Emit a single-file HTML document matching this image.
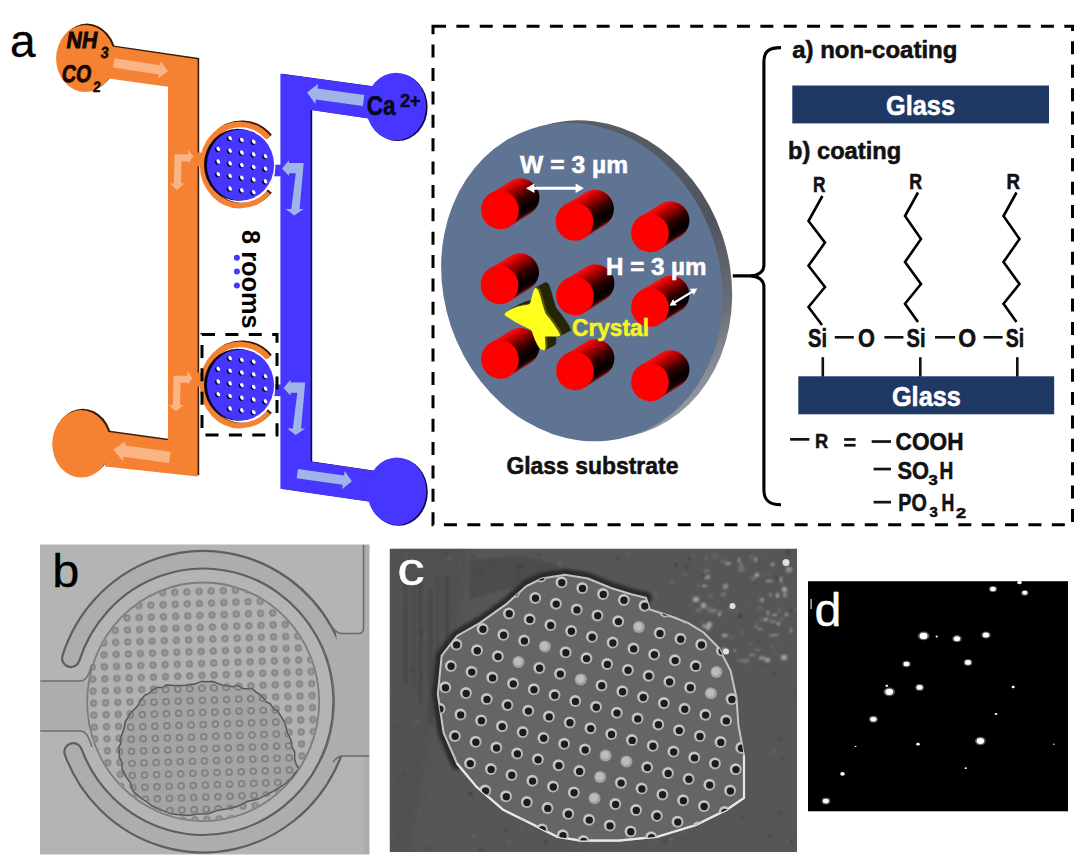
<!DOCTYPE html>
<html><head><meta charset="utf-8"><style>
html,body{margin:0;padding:0;background:#fff;}
svg{display:block;font-family:"Liberation Sans", sans-serif;}
</style></head><body>
<svg width="1090" height="865" viewBox="0 0 1090 865">
<rect width="1090" height="865" fill="#fff"/>
<polygon points="106.6,44.4 199.2,58.1 199.2,475.2 106.6,465.4 106.6,430.3 169.6,439.1 169.6,85.6 106.6,76.7" fill="#3a1a06" />
<ellipse cx="86.89999999999999" cy="57.1" rx="29.2" ry="33.5" fill="#3a1a06"/>
<ellipse cx="82.8" cy="442.40000000000003" rx="29" ry="33.7" fill="#3a1a06"/>
<polygon points="105.0,45.6 197.6,59.3 197.6,476.4 105.0,466.6 105.0,431.5 168.0,440.3 168.0,86.8 105.0,77.9" fill="#F58232" />
<ellipse cx="85.3" cy="58.5" rx="29.2" ry="33.5" fill="#F58232"/>
<ellipse cx="81.2" cy="443.8" rx="29" ry="33.7" fill="#F58232"/>
<polygon points="282.0,73.7 376.6,86.7 376.6,119.5 312.2,110.0 312.2,461.5 376.6,471.0 376.6,502.5 282.0,488.7" fill="#10084a" />
<ellipse cx="397.6" cy="107.3" rx="30" ry="33.8" fill="#10084a"/>
<ellipse cx="398.40000000000003" cy="492.0" rx="29.4" ry="33.8" fill="#10084a"/>
<polygon points="280.4,73.7 375.0,86.7 375.0,119.5 310.6,110.0 310.6,461.5 375.0,471.0 375.0,502.5 280.4,488.7" fill="#4636FF" />
<ellipse cx="396" cy="106.5" rx="30" ry="33.8" fill="#4636FF"/>
<ellipse cx="396.8" cy="491.2" rx="29.4" ry="33.8" fill="#4636FF"/>
<rect x="195" y="152.6" width="14" height="13.8" fill="#F58232"/>
<rect x="268" y="164.7" width="14" height="11.6" fill="#4636FF"/>
<path d="M268.1,137.8 A37.6,40.6 0 1 0 268.1,192.2" fill="none" stroke="#3a1a06" stroke-width="5.6" transform="translate(1.6,-1.2)"/>
<path d="M268.1,137.8 A37.6,40.6 0 1 0 268.1,192.2" fill="none" stroke="#F58232" stroke-width="5.6"/>
<ellipse cx="241.39999999999998" cy="166.8" rx="34" ry="36" fill="#ffffff"/>
<ellipse cx="238.0" cy="164.7" rx="34" ry="36" fill="#0a0520"/>
<ellipse cx="240.5" cy="165.0" rx="33.6" ry="35.6" fill="#4636FF"/>
<ellipse cx="228.9" cy="138.9" rx="2.0" ry="2.6" fill="#0a0530" transform="rotate(-35 228.9 138.9)"/>
<ellipse cx="230.1" cy="138.1" rx="1.6" ry="2.3" fill="#ffffff" transform="rotate(-35 230.1 138.1)"/>
<ellipse cx="240.7" cy="140.7" rx="2.0" ry="2.6" fill="#0a0530" transform="rotate(-35 240.7 140.7)"/>
<ellipse cx="241.9" cy="139.9" rx="1.6" ry="2.3" fill="#ffffff" transform="rotate(-35 241.9 139.9)"/>
<ellipse cx="252.5" cy="142.5" rx="2.0" ry="2.6" fill="#0a0530" transform="rotate(-35 252.5 142.5)"/>
<ellipse cx="253.7" cy="141.7" rx="1.6" ry="2.3" fill="#ffffff" transform="rotate(-35 253.7 141.7)"/>
<ellipse cx="217.1" cy="149.7" rx="2.0" ry="2.6" fill="#0a0530" transform="rotate(-35 217.1 149.7)"/>
<ellipse cx="218.3" cy="148.9" rx="1.6" ry="2.3" fill="#ffffff" transform="rotate(-35 218.3 148.9)"/>
<ellipse cx="228.9" cy="151.5" rx="2.0" ry="2.6" fill="#0a0530" transform="rotate(-35 228.9 151.5)"/>
<ellipse cx="230.1" cy="150.7" rx="1.6" ry="2.3" fill="#ffffff" transform="rotate(-35 230.1 150.7)"/>
<ellipse cx="240.7" cy="153.3" rx="2.0" ry="2.6" fill="#0a0530" transform="rotate(-35 240.7 153.3)"/>
<ellipse cx="241.9" cy="152.5" rx="1.6" ry="2.3" fill="#ffffff" transform="rotate(-35 241.9 152.5)"/>
<ellipse cx="252.5" cy="155.1" rx="2.0" ry="2.6" fill="#0a0530" transform="rotate(-35 252.5 155.1)"/>
<ellipse cx="253.7" cy="154.3" rx="1.6" ry="2.3" fill="#ffffff" transform="rotate(-35 253.7 154.3)"/>
<ellipse cx="264.3" cy="156.9" rx="2.0" ry="2.6" fill="#0a0530" transform="rotate(-35 264.3 156.9)"/>
<ellipse cx="265.5" cy="156.1" rx="1.6" ry="2.3" fill="#ffffff" transform="rotate(-35 265.5 156.1)"/>
<ellipse cx="217.1" cy="162.3" rx="2.0" ry="2.6" fill="#0a0530" transform="rotate(-35 217.1 162.3)"/>
<ellipse cx="218.3" cy="161.5" rx="1.6" ry="2.3" fill="#ffffff" transform="rotate(-35 218.3 161.5)"/>
<ellipse cx="228.9" cy="164.1" rx="2.0" ry="2.6" fill="#0a0530" transform="rotate(-35 228.9 164.1)"/>
<ellipse cx="230.1" cy="163.3" rx="1.6" ry="2.3" fill="#ffffff" transform="rotate(-35 230.1 163.3)"/>
<ellipse cx="240.7" cy="165.9" rx="2.0" ry="2.6" fill="#0a0530" transform="rotate(-35 240.7 165.9)"/>
<ellipse cx="241.9" cy="165.1" rx="1.6" ry="2.3" fill="#ffffff" transform="rotate(-35 241.9 165.1)"/>
<ellipse cx="252.5" cy="167.7" rx="2.0" ry="2.6" fill="#0a0530" transform="rotate(-35 252.5 167.7)"/>
<ellipse cx="253.7" cy="166.9" rx="1.6" ry="2.3" fill="#ffffff" transform="rotate(-35 253.7 166.9)"/>
<ellipse cx="264.3" cy="169.5" rx="2.0" ry="2.6" fill="#0a0530" transform="rotate(-35 264.3 169.5)"/>
<ellipse cx="265.5" cy="168.7" rx="1.6" ry="2.3" fill="#ffffff" transform="rotate(-35 265.5 168.7)"/>
<ellipse cx="217.1" cy="174.9" rx="2.0" ry="2.6" fill="#0a0530" transform="rotate(-35 217.1 174.9)"/>
<ellipse cx="218.3" cy="174.1" rx="1.6" ry="2.3" fill="#ffffff" transform="rotate(-35 218.3 174.1)"/>
<ellipse cx="228.9" cy="176.7" rx="2.0" ry="2.6" fill="#0a0530" transform="rotate(-35 228.9 176.7)"/>
<ellipse cx="230.1" cy="175.9" rx="1.6" ry="2.3" fill="#ffffff" transform="rotate(-35 230.1 175.9)"/>
<ellipse cx="240.7" cy="178.5" rx="2.0" ry="2.6" fill="#0a0530" transform="rotate(-35 240.7 178.5)"/>
<ellipse cx="241.9" cy="177.7" rx="1.6" ry="2.3" fill="#ffffff" transform="rotate(-35 241.9 177.7)"/>
<ellipse cx="252.5" cy="180.3" rx="2.0" ry="2.6" fill="#0a0530" transform="rotate(-35 252.5 180.3)"/>
<ellipse cx="253.7" cy="179.5" rx="1.6" ry="2.3" fill="#ffffff" transform="rotate(-35 253.7 179.5)"/>
<ellipse cx="264.3" cy="182.1" rx="2.0" ry="2.6" fill="#0a0530" transform="rotate(-35 264.3 182.1)"/>
<ellipse cx="265.5" cy="181.3" rx="1.6" ry="2.3" fill="#ffffff" transform="rotate(-35 265.5 181.3)"/>
<ellipse cx="228.9" cy="189.3" rx="2.0" ry="2.6" fill="#0a0530" transform="rotate(-35 228.9 189.3)"/>
<ellipse cx="230.1" cy="188.5" rx="1.6" ry="2.3" fill="#ffffff" transform="rotate(-35 230.1 188.5)"/>
<ellipse cx="240.7" cy="191.1" rx="2.0" ry="2.6" fill="#0a0530" transform="rotate(-35 240.7 191.1)"/>
<ellipse cx="241.9" cy="190.3" rx="1.6" ry="2.3" fill="#ffffff" transform="rotate(-35 241.9 190.3)"/>
<ellipse cx="252.5" cy="192.9" rx="2.0" ry="2.6" fill="#0a0530" transform="rotate(-35 252.5 192.9)"/>
<ellipse cx="253.7" cy="192.1" rx="1.6" ry="2.3" fill="#ffffff" transform="rotate(-35 253.7 192.1)"/>
<rect x="195" y="372.6" width="14" height="14" fill="#F58232"/>
<rect x="268" y="384.5" width="14" height="11.6" fill="#4636FF"/>
<path d="M268.1,357.8 A37.6,40.6 0 1 0 268.1,412.2" fill="none" stroke="#3a1a06" stroke-width="5.6" transform="translate(1.6,-1.2)"/>
<path d="M268.1,357.8 A37.6,40.6 0 1 0 268.1,412.2" fill="none" stroke="#F58232" stroke-width="5.6"/>
<ellipse cx="241.39999999999998" cy="386.8" rx="34" ry="36" fill="#ffffff"/>
<ellipse cx="238.0" cy="384.7" rx="34" ry="36" fill="#0a0520"/>
<ellipse cx="240.5" cy="385.0" rx="33.6" ry="35.6" fill="#4636FF"/>
<ellipse cx="228.9" cy="358.9" rx="2.0" ry="2.6" fill="#0a0530" transform="rotate(-35 228.9 358.9)"/>
<ellipse cx="230.1" cy="358.1" rx="1.6" ry="2.3" fill="#ffffff" transform="rotate(-35 230.1 358.1)"/>
<ellipse cx="240.7" cy="360.7" rx="2.0" ry="2.6" fill="#0a0530" transform="rotate(-35 240.7 360.7)"/>
<ellipse cx="241.9" cy="359.9" rx="1.6" ry="2.3" fill="#ffffff" transform="rotate(-35 241.9 359.9)"/>
<ellipse cx="252.5" cy="362.5" rx="2.0" ry="2.6" fill="#0a0530" transform="rotate(-35 252.5 362.5)"/>
<ellipse cx="253.7" cy="361.7" rx="1.6" ry="2.3" fill="#ffffff" transform="rotate(-35 253.7 361.7)"/>
<ellipse cx="217.1" cy="369.7" rx="2.0" ry="2.6" fill="#0a0530" transform="rotate(-35 217.1 369.7)"/>
<ellipse cx="218.3" cy="368.9" rx="1.6" ry="2.3" fill="#ffffff" transform="rotate(-35 218.3 368.9)"/>
<ellipse cx="228.9" cy="371.5" rx="2.0" ry="2.6" fill="#0a0530" transform="rotate(-35 228.9 371.5)"/>
<ellipse cx="230.1" cy="370.7" rx="1.6" ry="2.3" fill="#ffffff" transform="rotate(-35 230.1 370.7)"/>
<ellipse cx="240.7" cy="373.3" rx="2.0" ry="2.6" fill="#0a0530" transform="rotate(-35 240.7 373.3)"/>
<ellipse cx="241.9" cy="372.5" rx="1.6" ry="2.3" fill="#ffffff" transform="rotate(-35 241.9 372.5)"/>
<ellipse cx="252.5" cy="375.1" rx="2.0" ry="2.6" fill="#0a0530" transform="rotate(-35 252.5 375.1)"/>
<ellipse cx="253.7" cy="374.3" rx="1.6" ry="2.3" fill="#ffffff" transform="rotate(-35 253.7 374.3)"/>
<ellipse cx="264.3" cy="376.9" rx="2.0" ry="2.6" fill="#0a0530" transform="rotate(-35 264.3 376.9)"/>
<ellipse cx="265.5" cy="376.1" rx="1.6" ry="2.3" fill="#ffffff" transform="rotate(-35 265.5 376.1)"/>
<ellipse cx="217.1" cy="382.3" rx="2.0" ry="2.6" fill="#0a0530" transform="rotate(-35 217.1 382.3)"/>
<ellipse cx="218.3" cy="381.5" rx="1.6" ry="2.3" fill="#ffffff" transform="rotate(-35 218.3 381.5)"/>
<ellipse cx="228.9" cy="384.1" rx="2.0" ry="2.6" fill="#0a0530" transform="rotate(-35 228.9 384.1)"/>
<ellipse cx="230.1" cy="383.3" rx="1.6" ry="2.3" fill="#ffffff" transform="rotate(-35 230.1 383.3)"/>
<ellipse cx="240.7" cy="385.9" rx="2.0" ry="2.6" fill="#0a0530" transform="rotate(-35 240.7 385.9)"/>
<ellipse cx="241.9" cy="385.1" rx="1.6" ry="2.3" fill="#ffffff" transform="rotate(-35 241.9 385.1)"/>
<ellipse cx="252.5" cy="387.7" rx="2.0" ry="2.6" fill="#0a0530" transform="rotate(-35 252.5 387.7)"/>
<ellipse cx="253.7" cy="386.9" rx="1.6" ry="2.3" fill="#ffffff" transform="rotate(-35 253.7 386.9)"/>
<ellipse cx="264.3" cy="389.5" rx="2.0" ry="2.6" fill="#0a0530" transform="rotate(-35 264.3 389.5)"/>
<ellipse cx="265.5" cy="388.7" rx="1.6" ry="2.3" fill="#ffffff" transform="rotate(-35 265.5 388.7)"/>
<ellipse cx="217.1" cy="394.9" rx="2.0" ry="2.6" fill="#0a0530" transform="rotate(-35 217.1 394.9)"/>
<ellipse cx="218.3" cy="394.1" rx="1.6" ry="2.3" fill="#ffffff" transform="rotate(-35 218.3 394.1)"/>
<ellipse cx="228.9" cy="396.7" rx="2.0" ry="2.6" fill="#0a0530" transform="rotate(-35 228.9 396.7)"/>
<ellipse cx="230.1" cy="395.9" rx="1.6" ry="2.3" fill="#ffffff" transform="rotate(-35 230.1 395.9)"/>
<ellipse cx="240.7" cy="398.5" rx="2.0" ry="2.6" fill="#0a0530" transform="rotate(-35 240.7 398.5)"/>
<ellipse cx="241.9" cy="397.7" rx="1.6" ry="2.3" fill="#ffffff" transform="rotate(-35 241.9 397.7)"/>
<ellipse cx="252.5" cy="400.3" rx="2.0" ry="2.6" fill="#0a0530" transform="rotate(-35 252.5 400.3)"/>
<ellipse cx="253.7" cy="399.5" rx="1.6" ry="2.3" fill="#ffffff" transform="rotate(-35 253.7 399.5)"/>
<ellipse cx="264.3" cy="402.1" rx="2.0" ry="2.6" fill="#0a0530" transform="rotate(-35 264.3 402.1)"/>
<ellipse cx="265.5" cy="401.3" rx="1.6" ry="2.3" fill="#ffffff" transform="rotate(-35 265.5 401.3)"/>
<ellipse cx="228.9" cy="409.3" rx="2.0" ry="2.6" fill="#0a0530" transform="rotate(-35 228.9 409.3)"/>
<ellipse cx="230.1" cy="408.5" rx="1.6" ry="2.3" fill="#ffffff" transform="rotate(-35 230.1 408.5)"/>
<ellipse cx="240.7" cy="411.1" rx="2.0" ry="2.6" fill="#0a0530" transform="rotate(-35 240.7 411.1)"/>
<ellipse cx="241.9" cy="410.3" rx="1.6" ry="2.3" fill="#ffffff" transform="rotate(-35 241.9 410.3)"/>
<ellipse cx="252.5" cy="412.9" rx="2.0" ry="2.6" fill="#0a0530" transform="rotate(-35 252.5 412.9)"/>
<ellipse cx="253.7" cy="412.1" rx="1.6" ry="2.3" fill="#ffffff" transform="rotate(-35 253.7 412.1)"/>
<path d="M0,-4.6 L46.13298822465297,-4.6 L46.13298822465297,-8.8 L54.73298822465297,0 L46.13298822465297,8.8 L46.13298822465297,4.6 L0,4.6 Z" fill="#FBB584" transform="translate(113.8,62.9) rotate(8.72)"/>
<path d="M0,-5.6 L46.1349280213076,-5.6 L46.1349280213076,-10 L57.1349280213076,0 L46.1349280213076,10 L46.1349280213076,5.6 L0,5.6 Z" fill="#FBB584" transform="translate(169.9,457.4) rotate(-172.15)"/>
<path d="M0,-5.5 L47.34962751850357,-5.5 L47.34962751850357,-10.2 L57.04962751850357,0 L47.34962751850357,10.2 L47.34962751850357,5.5 L0,5.5 Z" fill="#A0B4EA" transform="translate(363.6,100.5) rotate(-172.04)"/>
<path d="M0,-4.75 L46.54027566126231,-4.75 L46.54027566126231,-9.2 L55.14027566126231,0 L46.54027566126231,9.2 L46.54027566126231,4.75 L0,4.75 Z" fill="#A0B4EA" transform="translate(297.3,473.6) rotate(8.03)"/>
<path d="M174.6,154.3 L188.3,154.3 L188.3,149.8 L193.4,156.6 L188.3,163.4 L188.3,161.3 L181.6,161.3 L181.0,183.4 L184.3,183.4 L177,190 L169.7,183.4 L173.8,183.4 Z" fill="#FBB584"/>
<path d="M174.6,154.3 L188.3,154.3 L188.3,149.8 L193.4,156.6 L188.3,163.4 L188.3,161.3 L181.6,161.3 L181.0,183.4 L184.3,183.4 L177,190 L169.7,183.4 L173.8,183.4 Z" fill="#FBB584" transform="translate(-1,221.5)"/>
<path d="M282,168.5 L289,160.2 L289,163 L303.7,163 L299.6,209 L303.7,209 L294.2,215.6 L285.7,209 L291.3,209 L295.8,173.2 L289,173.2 L289,175.9 Z" fill="#A0B4EA"/>
<path d="M282,168.5 L289,160.2 L289,163 L303.7,163 L299.6,209 L303.7,209 L294.2,215.6 L285.7,209 L291.3,209 L295.8,173.2 L289,173.2 L289,175.9 Z" fill="#A0B4EA" transform="translate(1.5,219.5)"/>
<g transform="translate(0,0)">
<text x="0" y="0" transform="translate(65.6,48.3) skewX(-9)" font-size="23.3" font-weight="bold" fill="#140800" stroke="#140800" stroke-width="0.8" textLength="31" lengthAdjust="spacingAndGlyphs">NH</text>
<text x="0" y="0" transform="translate(100.2,58.4) skewX(-6)" font-size="16" font-weight="bold" fill="#140800" stroke="#140800" stroke-width="0.5" textLength="8" lengthAdjust="spacingAndGlyphs">3</text>
<text x="0" y="0" transform="translate(61,81.6) skewX(-7)" font-size="24" font-weight="bold" fill="#140800" stroke="#140800" stroke-width="0.8" textLength="29.5" lengthAdjust="spacingAndGlyphs">CO</text>
<text x="0" y="0" transform="translate(92.8,92) skewX(-5)" font-size="15" font-weight="bold" fill="#140800" stroke="#140800" stroke-width="0.5" textLength="7.6" lengthAdjust="spacingAndGlyphs">2</text>
</g>
<text x="366.7" y="114.9" font-size="27.6" font-weight="bold" font-style="normal" fill="#0a0820" text-anchor="start" textLength="28.8" lengthAdjust="spacingAndGlyphs" stroke="#0a0820" stroke-width="0.55" >Ca</text>
<text x="400.2" y="106.6" font-size="18.6" font-weight="bold" font-style="normal" fill="#0a0820" text-anchor="start" textLength="20.3" lengthAdjust="spacingAndGlyphs" stroke="#0a0820" stroke-width="0.55" >2+</text>
<text x="0" y="0" font-size="26.7" font-weight="bold" fill="#000" transform="translate(242.4,230) rotate(90)" textLength="98.6" lengthAdjust="spacingAndGlyphs">8 rooms</text>
<circle cx="236.9" cy="257.7" r="3" fill="#4636FF"/>
<circle cx="236.9" cy="271.5" r="3" fill="#4636FF"/>
<circle cx="236.9" cy="285.4" r="3" fill="#4636FF"/>
<rect x="202" y="334.5" width="75" height="100.5" fill="none" stroke="#000" stroke-width="3" stroke-dasharray="13 10.4" stroke-dashoffset="0"/>
<text x="10" y="57" font-size="46" font-weight="normal" font-style="normal" fill="#000" text-anchor="start" stroke="#000" stroke-width="0.3" >a</text>
<defs><linearGradient id="rimg" x1="600" y1="120" x2="700" y2="420" gradientUnits="userSpaceOnUse"><stop offset="0" stop-color="#5a5e66"/><stop offset="0.55" stop-color="#50545c"/><stop offset="0.8" stop-color="#6a6e76"/><stop offset="1" stop-color="#9a9ea6"/></linearGradient></defs>
<ellipse cx="591.4" cy="279.6" rx="138.2" ry="161.5" fill="url(#rimg)" transform="rotate(-18.7 591.4 279.6)"/>
<ellipse cx="581.9" cy="282.1" rx="138.2" ry="161.5" fill="#5F7393" transform="rotate(-18.7 581.9 282.1)"/>
<defs><linearGradient id="pg0" gradientUnits="userSpaceOnUse" x1="490.0" y1="193.8" x2="510.0" y2="226.2"><stop offset="0" stop-color="#ff1010"/><stop offset="0.2" stop-color="#c00000"/><stop offset="0.55" stop-color="#300000"/><stop offset="0.8" stop-color="#000"/><stop offset="0.93" stop-color="#200000"/><stop offset="1" stop-color="#a02020"/></linearGradient><linearGradient id="pg1" gradientUnits="userSpaceOnUse" x1="564.5" y1="205.3" x2="584.5" y2="237.7"><stop offset="0" stop-color="#ff1010"/><stop offset="0.2" stop-color="#c00000"/><stop offset="0.55" stop-color="#300000"/><stop offset="0.8" stop-color="#000"/><stop offset="0.93" stop-color="#200000"/><stop offset="1" stop-color="#a02020"/></linearGradient><linearGradient id="pg2" gradientUnits="userSpaceOnUse" x1="640.0" y1="216.8" x2="660.0" y2="249.2"><stop offset="0" stop-color="#ff1010"/><stop offset="0.2" stop-color="#c00000"/><stop offset="0.55" stop-color="#300000"/><stop offset="0.8" stop-color="#000"/><stop offset="0.93" stop-color="#200000"/><stop offset="1" stop-color="#a02020"/></linearGradient><linearGradient id="pg3" gradientUnits="userSpaceOnUse" x1="489.5" y1="268.8" x2="509.5" y2="301.2"><stop offset="0" stop-color="#ff1010"/><stop offset="0.2" stop-color="#c00000"/><stop offset="0.55" stop-color="#300000"/><stop offset="0.8" stop-color="#000"/><stop offset="0.93" stop-color="#200000"/><stop offset="1" stop-color="#a02020"/></linearGradient><linearGradient id="pg4" gradientUnits="userSpaceOnUse" x1="565.0" y1="279.8" x2="585.0" y2="312.2"><stop offset="0" stop-color="#ff1010"/><stop offset="0.2" stop-color="#c00000"/><stop offset="0.55" stop-color="#300000"/><stop offset="0.8" stop-color="#000"/><stop offset="0.93" stop-color="#200000"/><stop offset="1" stop-color="#a02020"/></linearGradient><linearGradient id="pg5" gradientUnits="userSpaceOnUse" x1="640.0" y1="291.3" x2="660.0" y2="323.7"><stop offset="0" stop-color="#ff1010"/><stop offset="0.2" stop-color="#c00000"/><stop offset="0.55" stop-color="#300000"/><stop offset="0.8" stop-color="#000"/><stop offset="0.93" stop-color="#200000"/><stop offset="1" stop-color="#a02020"/></linearGradient><linearGradient id="pg6" gradientUnits="userSpaceOnUse" x1="490.0" y1="343.3" x2="510.0" y2="375.7"><stop offset="0" stop-color="#ff1010"/><stop offset="0.2" stop-color="#c00000"/><stop offset="0.55" stop-color="#300000"/><stop offset="0.8" stop-color="#000"/><stop offset="0.93" stop-color="#200000"/><stop offset="1" stop-color="#a02020"/></linearGradient><linearGradient id="pg7" gradientUnits="userSpaceOnUse" x1="565.0" y1="354.8" x2="585.0" y2="387.2"><stop offset="0" stop-color="#ff1010"/><stop offset="0.2" stop-color="#c00000"/><stop offset="0.55" stop-color="#300000"/><stop offset="0.8" stop-color="#000"/><stop offset="0.93" stop-color="#200000"/><stop offset="1" stop-color="#a02020"/></linearGradient><linearGradient id="pg8" gradientUnits="userSpaceOnUse" x1="640.0" y1="365.8" x2="660.0" y2="398.2"><stop offset="0" stop-color="#ff1010"/><stop offset="0.2" stop-color="#c00000"/><stop offset="0.55" stop-color="#300000"/><stop offset="0.8" stop-color="#000"/><stop offset="0.93" stop-color="#200000"/><stop offset="1" stop-color="#a02020"/></linearGradient></defs>
<path d="M490.0,193.8 L510.4,181.2 A19.0,19.0 0 0 1 530.4,213.6 L510.0,226.2 Z" fill="url(#pg0)"/>
<ellipse cx="500" cy="210" rx="18.8" ry="19.3" fill="#ff0000" transform="rotate(-20 500 210)"/>
<path d="M564.5,205.3 L584.9,192.7 A19.0,19.0 0 0 1 604.9,225.1 L584.5,237.7 Z" fill="url(#pg1)"/>
<ellipse cx="574.5" cy="221.5" rx="18.8" ry="19.3" fill="#ff0000" transform="rotate(-20 574.5 221.5)"/>
<path d="M640.0,216.8 L660.4,204.2 A19.0,19.0 0 0 1 680.4,236.6 L660.0,249.2 Z" fill="url(#pg2)"/>
<ellipse cx="650" cy="233" rx="18.8" ry="19.3" fill="#ff0000" transform="rotate(-20 650 233)"/>
<path d="M489.5,268.8 L509.9,256.2 A19.0,19.0 0 0 1 529.9,288.6 L509.5,301.2 Z" fill="url(#pg3)"/>
<ellipse cx="499.5" cy="285" rx="18.8" ry="19.3" fill="#ff0000" transform="rotate(-20 499.5 285)"/>
<path d="M565.0,279.8 L585.4,267.2 A19.0,19.0 0 0 1 605.4,299.6 L585.0,312.2 Z" fill="url(#pg4)"/>
<ellipse cx="575" cy="296" rx="18.8" ry="19.3" fill="#ff0000" transform="rotate(-20 575 296)"/>
<path d="M640.0,291.3 L660.4,278.7 A19.0,19.0 0 0 1 680.4,311.1 L660.0,323.7 Z" fill="url(#pg5)"/>
<ellipse cx="650" cy="307.5" rx="18.8" ry="19.3" fill="#ff0000" transform="rotate(-20 650 307.5)"/>
<path d="M490.0,343.3 L510.4,330.7 A19.0,19.0 0 0 1 530.4,363.1 L510.0,375.7 Z" fill="url(#pg6)"/>
<ellipse cx="500" cy="359.5" rx="18.8" ry="19.3" fill="#ff0000" transform="rotate(-20 500 359.5)"/>
<path d="M565.0,354.8 L585.4,342.2 A19.0,19.0 0 0 1 605.4,374.6 L585.0,387.2 Z" fill="url(#pg7)"/>
<ellipse cx="575" cy="371" rx="18.8" ry="19.3" fill="#ff0000" transform="rotate(-20 575 371)"/>
<path d="M640.0,365.8 L660.4,353.2 A19.0,19.0 0 0 1 680.4,385.6 L660.0,398.2 Z" fill="url(#pg8)"/>
<ellipse cx="650" cy="382" rx="18.8" ry="19.3" fill="#ff0000" transform="rotate(-20 650 382)"/>
<defs><linearGradient id="cg" x1="0" y1="0" x2="1" y2="0"><stop offset="0" stop-color="#5a5a18"/><stop offset="1" stop-color="#1c1c05"/></linearGradient></defs>
<path d="M504.7,313.9 C505.3,313.0 507.1,311.7 508.9,310.6 C510.6,309.5 513.0,308.2 515.4,307.4 C517.7,306.5 520.6,306.0 522.8,305.5 C524.9,305.1 527.1,305.1 528.3,304.6 C529.5,304.1 529.6,303.8 530.2,302.8 C530.7,301.7 531.1,299.8 531.5,298.1 C532.0,296.4 532.5,294.1 532.9,292.6 C533.4,291.0 533.9,289.6 534.3,288.9 C534.8,288.1 535.1,287.8 535.7,288.0 C536.3,288.1 537.2,288.4 538.0,289.8 C538.8,291.2 539.6,293.8 540.3,296.3 C541.1,298.7 541.9,302.0 542.6,304.6 C543.4,307.2 544.4,310.5 545.0,312.0 C545.5,313.5 545.1,312.8 545.9,313.9 C546.6,314.9 548.2,316.6 549.6,318.5 C551.0,320.3 552.8,322.9 554.2,325.0 C555.6,327.0 557.0,329.0 557.9,330.5 C558.8,332.0 559.4,333.4 559.8,334.2 C560.1,335.1 560.7,335.2 560.2,335.6 C559.8,336.0 558.6,336.4 557.0,336.5 C555.4,336.7 552.4,336.5 550.5,336.5 C548.6,336.5 546.3,336.3 545.4,336.5 C544.5,336.7 545.0,336.7 545.0,337.9 C545.0,339.1 545.3,341.8 545.4,343.5 C545.5,345.2 545.6,346.9 545.4,348.1 C545.2,349.2 545.0,350.4 544.0,350.4 C543.0,350.4 540.8,349.5 539.4,348.1 C538.0,346.6 536.8,343.9 535.7,341.6 C534.6,339.3 533.6,336.1 532.9,334.2 C532.2,332.4 532.0,331.3 531.5,330.5 C531.1,329.7 531.3,330.2 530.2,329.6 C529.0,329.0 526.8,327.9 524.6,326.8 C522.4,325.7 519.7,324.5 517.2,323.1 C514.7,321.7 511.7,319.7 509.8,318.5 C507.9,317.2 506.5,316.5 505.6,315.7 C504.8,314.9 504.2,314.7 504.7,313.9 Z" fill="#262606" stroke="#262606" stroke-width="0.6" transform="translate(10.50,-5.50)"/>
<path d="M504.7,313.9 C505.3,313.0 507.1,311.7 508.9,310.6 C510.6,309.5 513.0,308.2 515.4,307.4 C517.7,306.5 520.6,306.0 522.8,305.5 C524.9,305.1 527.1,305.1 528.3,304.6 C529.5,304.1 529.6,303.8 530.2,302.8 C530.7,301.7 531.1,299.8 531.5,298.1 C532.0,296.4 532.5,294.1 532.9,292.6 C533.4,291.0 533.9,289.6 534.3,288.9 C534.8,288.1 535.1,287.8 535.7,288.0 C536.3,288.1 537.2,288.4 538.0,289.8 C538.8,291.2 539.6,293.8 540.3,296.3 C541.1,298.7 541.9,302.0 542.6,304.6 C543.4,307.2 544.4,310.5 545.0,312.0 C545.5,313.5 545.1,312.8 545.9,313.9 C546.6,314.9 548.2,316.6 549.6,318.5 C551.0,320.3 552.8,322.9 554.2,325.0 C555.6,327.0 557.0,329.0 557.9,330.5 C558.8,332.0 559.4,333.4 559.8,334.2 C560.1,335.1 560.7,335.2 560.2,335.6 C559.8,336.0 558.6,336.4 557.0,336.5 C555.4,336.7 552.4,336.5 550.5,336.5 C548.6,336.5 546.3,336.3 545.4,336.5 C544.5,336.7 545.0,336.7 545.0,337.9 C545.0,339.1 545.3,341.8 545.4,343.5 C545.5,345.2 545.6,346.9 545.4,348.1 C545.2,349.2 545.0,350.4 544.0,350.4 C543.0,350.4 540.8,349.5 539.4,348.1 C538.0,346.6 536.8,343.9 535.7,341.6 C534.6,339.3 533.6,336.1 532.9,334.2 C532.2,332.4 532.0,331.3 531.5,330.5 C531.1,329.7 531.3,330.2 530.2,329.6 C529.0,329.0 526.8,327.9 524.6,326.8 C522.4,325.7 519.7,324.5 517.2,323.1 C514.7,321.7 511.7,319.7 509.8,318.5 C507.9,317.2 506.5,316.5 505.6,315.7 C504.8,314.9 504.2,314.7 504.7,313.9 Z" fill="#262606" stroke="#262606" stroke-width="0.6" transform="translate(9.62,-5.04)"/>
<path d="M504.7,313.9 C505.3,313.0 507.1,311.7 508.9,310.6 C510.6,309.5 513.0,308.2 515.4,307.4 C517.7,306.5 520.6,306.0 522.8,305.5 C524.9,305.1 527.1,305.1 528.3,304.6 C529.5,304.1 529.6,303.8 530.2,302.8 C530.7,301.7 531.1,299.8 531.5,298.1 C532.0,296.4 532.5,294.1 532.9,292.6 C533.4,291.0 533.9,289.6 534.3,288.9 C534.8,288.1 535.1,287.8 535.7,288.0 C536.3,288.1 537.2,288.4 538.0,289.8 C538.8,291.2 539.6,293.8 540.3,296.3 C541.1,298.7 541.9,302.0 542.6,304.6 C543.4,307.2 544.4,310.5 545.0,312.0 C545.5,313.5 545.1,312.8 545.9,313.9 C546.6,314.9 548.2,316.6 549.6,318.5 C551.0,320.3 552.8,322.9 554.2,325.0 C555.6,327.0 557.0,329.0 557.9,330.5 C558.8,332.0 559.4,333.4 559.8,334.2 C560.1,335.1 560.7,335.2 560.2,335.6 C559.8,336.0 558.6,336.4 557.0,336.5 C555.4,336.7 552.4,336.5 550.5,336.5 C548.6,336.5 546.3,336.3 545.4,336.5 C544.5,336.7 545.0,336.7 545.0,337.9 C545.0,339.1 545.3,341.8 545.4,343.5 C545.5,345.2 545.6,346.9 545.4,348.1 C545.2,349.2 545.0,350.4 544.0,350.4 C543.0,350.4 540.8,349.5 539.4,348.1 C538.0,346.6 536.8,343.9 535.7,341.6 C534.6,339.3 533.6,336.1 532.9,334.2 C532.2,332.4 532.0,331.3 531.5,330.5 C531.1,329.7 531.3,330.2 530.2,329.6 C529.0,329.0 526.8,327.9 524.6,326.8 C522.4,325.7 519.7,324.5 517.2,323.1 C514.7,321.7 511.7,319.7 509.8,318.5 C507.9,317.2 506.5,316.5 505.6,315.7 C504.8,314.9 504.2,314.7 504.7,313.9 Z" fill="#262606" stroke="#262606" stroke-width="0.6" transform="translate(8.75,-4.58)"/>
<path d="M504.7,313.9 C505.3,313.0 507.1,311.7 508.9,310.6 C510.6,309.5 513.0,308.2 515.4,307.4 C517.7,306.5 520.6,306.0 522.8,305.5 C524.9,305.1 527.1,305.1 528.3,304.6 C529.5,304.1 529.6,303.8 530.2,302.8 C530.7,301.7 531.1,299.8 531.5,298.1 C532.0,296.4 532.5,294.1 532.9,292.6 C533.4,291.0 533.9,289.6 534.3,288.9 C534.8,288.1 535.1,287.8 535.7,288.0 C536.3,288.1 537.2,288.4 538.0,289.8 C538.8,291.2 539.6,293.8 540.3,296.3 C541.1,298.7 541.9,302.0 542.6,304.6 C543.4,307.2 544.4,310.5 545.0,312.0 C545.5,313.5 545.1,312.8 545.9,313.9 C546.6,314.9 548.2,316.6 549.6,318.5 C551.0,320.3 552.8,322.9 554.2,325.0 C555.6,327.0 557.0,329.0 557.9,330.5 C558.8,332.0 559.4,333.4 559.8,334.2 C560.1,335.1 560.7,335.2 560.2,335.6 C559.8,336.0 558.6,336.4 557.0,336.5 C555.4,336.7 552.4,336.5 550.5,336.5 C548.6,336.5 546.3,336.3 545.4,336.5 C544.5,336.7 545.0,336.7 545.0,337.9 C545.0,339.1 545.3,341.8 545.4,343.5 C545.5,345.2 545.6,346.9 545.4,348.1 C545.2,349.2 545.0,350.4 544.0,350.4 C543.0,350.4 540.8,349.5 539.4,348.1 C538.0,346.6 536.8,343.9 535.7,341.6 C534.6,339.3 533.6,336.1 532.9,334.2 C532.2,332.4 532.0,331.3 531.5,330.5 C531.1,329.7 531.3,330.2 530.2,329.6 C529.0,329.0 526.8,327.9 524.6,326.8 C522.4,325.7 519.7,324.5 517.2,323.1 C514.7,321.7 511.7,319.7 509.8,318.5 C507.9,317.2 506.5,316.5 505.6,315.7 C504.8,314.9 504.2,314.7 504.7,313.9 Z" fill="#262606" stroke="#262606" stroke-width="0.6" transform="translate(7.88,-4.12)"/>
<path d="M504.7,313.9 C505.3,313.0 507.1,311.7 508.9,310.6 C510.6,309.5 513.0,308.2 515.4,307.4 C517.7,306.5 520.6,306.0 522.8,305.5 C524.9,305.1 527.1,305.1 528.3,304.6 C529.5,304.1 529.6,303.8 530.2,302.8 C530.7,301.7 531.1,299.8 531.5,298.1 C532.0,296.4 532.5,294.1 532.9,292.6 C533.4,291.0 533.9,289.6 534.3,288.9 C534.8,288.1 535.1,287.8 535.7,288.0 C536.3,288.1 537.2,288.4 538.0,289.8 C538.8,291.2 539.6,293.8 540.3,296.3 C541.1,298.7 541.9,302.0 542.6,304.6 C543.4,307.2 544.4,310.5 545.0,312.0 C545.5,313.5 545.1,312.8 545.9,313.9 C546.6,314.9 548.2,316.6 549.6,318.5 C551.0,320.3 552.8,322.9 554.2,325.0 C555.6,327.0 557.0,329.0 557.9,330.5 C558.8,332.0 559.4,333.4 559.8,334.2 C560.1,335.1 560.7,335.2 560.2,335.6 C559.8,336.0 558.6,336.4 557.0,336.5 C555.4,336.7 552.4,336.5 550.5,336.5 C548.6,336.5 546.3,336.3 545.4,336.5 C544.5,336.7 545.0,336.7 545.0,337.9 C545.0,339.1 545.3,341.8 545.4,343.5 C545.5,345.2 545.6,346.9 545.4,348.1 C545.2,349.2 545.0,350.4 544.0,350.4 C543.0,350.4 540.8,349.5 539.4,348.1 C538.0,346.6 536.8,343.9 535.7,341.6 C534.6,339.3 533.6,336.1 532.9,334.2 C532.2,332.4 532.0,331.3 531.5,330.5 C531.1,329.7 531.3,330.2 530.2,329.6 C529.0,329.0 526.8,327.9 524.6,326.8 C522.4,325.7 519.7,324.5 517.2,323.1 C514.7,321.7 511.7,319.7 509.8,318.5 C507.9,317.2 506.5,316.5 505.6,315.7 C504.8,314.9 504.2,314.7 504.7,313.9 Z" fill="#262606" stroke="#262606" stroke-width="0.6" transform="translate(7.00,-3.67)"/>
<path d="M504.7,313.9 C505.3,313.0 507.1,311.7 508.9,310.6 C510.6,309.5 513.0,308.2 515.4,307.4 C517.7,306.5 520.6,306.0 522.8,305.5 C524.9,305.1 527.1,305.1 528.3,304.6 C529.5,304.1 529.6,303.8 530.2,302.8 C530.7,301.7 531.1,299.8 531.5,298.1 C532.0,296.4 532.5,294.1 532.9,292.6 C533.4,291.0 533.9,289.6 534.3,288.9 C534.8,288.1 535.1,287.8 535.7,288.0 C536.3,288.1 537.2,288.4 538.0,289.8 C538.8,291.2 539.6,293.8 540.3,296.3 C541.1,298.7 541.9,302.0 542.6,304.6 C543.4,307.2 544.4,310.5 545.0,312.0 C545.5,313.5 545.1,312.8 545.9,313.9 C546.6,314.9 548.2,316.6 549.6,318.5 C551.0,320.3 552.8,322.9 554.2,325.0 C555.6,327.0 557.0,329.0 557.9,330.5 C558.8,332.0 559.4,333.4 559.8,334.2 C560.1,335.1 560.7,335.2 560.2,335.6 C559.8,336.0 558.6,336.4 557.0,336.5 C555.4,336.7 552.4,336.5 550.5,336.5 C548.6,336.5 546.3,336.3 545.4,336.5 C544.5,336.7 545.0,336.7 545.0,337.9 C545.0,339.1 545.3,341.8 545.4,343.5 C545.5,345.2 545.6,346.9 545.4,348.1 C545.2,349.2 545.0,350.4 544.0,350.4 C543.0,350.4 540.8,349.5 539.4,348.1 C538.0,346.6 536.8,343.9 535.7,341.6 C534.6,339.3 533.6,336.1 532.9,334.2 C532.2,332.4 532.0,331.3 531.5,330.5 C531.1,329.7 531.3,330.2 530.2,329.6 C529.0,329.0 526.8,327.9 524.6,326.8 C522.4,325.7 519.7,324.5 517.2,323.1 C514.7,321.7 511.7,319.7 509.8,318.5 C507.9,317.2 506.5,316.5 505.6,315.7 C504.8,314.9 504.2,314.7 504.7,313.9 Z" fill="#262606" stroke="#262606" stroke-width="0.6" transform="translate(6.12,-3.21)"/>
<path d="M504.7,313.9 C505.3,313.0 507.1,311.7 508.9,310.6 C510.6,309.5 513.0,308.2 515.4,307.4 C517.7,306.5 520.6,306.0 522.8,305.5 C524.9,305.1 527.1,305.1 528.3,304.6 C529.5,304.1 529.6,303.8 530.2,302.8 C530.7,301.7 531.1,299.8 531.5,298.1 C532.0,296.4 532.5,294.1 532.9,292.6 C533.4,291.0 533.9,289.6 534.3,288.9 C534.8,288.1 535.1,287.8 535.7,288.0 C536.3,288.1 537.2,288.4 538.0,289.8 C538.8,291.2 539.6,293.8 540.3,296.3 C541.1,298.7 541.9,302.0 542.6,304.6 C543.4,307.2 544.4,310.5 545.0,312.0 C545.5,313.5 545.1,312.8 545.9,313.9 C546.6,314.9 548.2,316.6 549.6,318.5 C551.0,320.3 552.8,322.9 554.2,325.0 C555.6,327.0 557.0,329.0 557.9,330.5 C558.8,332.0 559.4,333.4 559.8,334.2 C560.1,335.1 560.7,335.2 560.2,335.6 C559.8,336.0 558.6,336.4 557.0,336.5 C555.4,336.7 552.4,336.5 550.5,336.5 C548.6,336.5 546.3,336.3 545.4,336.5 C544.5,336.7 545.0,336.7 545.0,337.9 C545.0,339.1 545.3,341.8 545.4,343.5 C545.5,345.2 545.6,346.9 545.4,348.1 C545.2,349.2 545.0,350.4 544.0,350.4 C543.0,350.4 540.8,349.5 539.4,348.1 C538.0,346.6 536.8,343.9 535.7,341.6 C534.6,339.3 533.6,336.1 532.9,334.2 C532.2,332.4 532.0,331.3 531.5,330.5 C531.1,329.7 531.3,330.2 530.2,329.6 C529.0,329.0 526.8,327.9 524.6,326.8 C522.4,325.7 519.7,324.5 517.2,323.1 C514.7,321.7 511.7,319.7 509.8,318.5 C507.9,317.2 506.5,316.5 505.6,315.7 C504.8,314.9 504.2,314.7 504.7,313.9 Z" fill="#262606" stroke="#262606" stroke-width="0.6" transform="translate(5.25,-2.75)"/>
<path d="M504.7,313.9 C505.3,313.0 507.1,311.7 508.9,310.6 C510.6,309.5 513.0,308.2 515.4,307.4 C517.7,306.5 520.6,306.0 522.8,305.5 C524.9,305.1 527.1,305.1 528.3,304.6 C529.5,304.1 529.6,303.8 530.2,302.8 C530.7,301.7 531.1,299.8 531.5,298.1 C532.0,296.4 532.5,294.1 532.9,292.6 C533.4,291.0 533.9,289.6 534.3,288.9 C534.8,288.1 535.1,287.8 535.7,288.0 C536.3,288.1 537.2,288.4 538.0,289.8 C538.8,291.2 539.6,293.8 540.3,296.3 C541.1,298.7 541.9,302.0 542.6,304.6 C543.4,307.2 544.4,310.5 545.0,312.0 C545.5,313.5 545.1,312.8 545.9,313.9 C546.6,314.9 548.2,316.6 549.6,318.5 C551.0,320.3 552.8,322.9 554.2,325.0 C555.6,327.0 557.0,329.0 557.9,330.5 C558.8,332.0 559.4,333.4 559.8,334.2 C560.1,335.1 560.7,335.2 560.2,335.6 C559.8,336.0 558.6,336.4 557.0,336.5 C555.4,336.7 552.4,336.5 550.5,336.5 C548.6,336.5 546.3,336.3 545.4,336.5 C544.5,336.7 545.0,336.7 545.0,337.9 C545.0,339.1 545.3,341.8 545.4,343.5 C545.5,345.2 545.6,346.9 545.4,348.1 C545.2,349.2 545.0,350.4 544.0,350.4 C543.0,350.4 540.8,349.5 539.4,348.1 C538.0,346.6 536.8,343.9 535.7,341.6 C534.6,339.3 533.6,336.1 532.9,334.2 C532.2,332.4 532.0,331.3 531.5,330.5 C531.1,329.7 531.3,330.2 530.2,329.6 C529.0,329.0 526.8,327.9 524.6,326.8 C522.4,325.7 519.7,324.5 517.2,323.1 C514.7,321.7 511.7,319.7 509.8,318.5 C507.9,317.2 506.5,316.5 505.6,315.7 C504.8,314.9 504.2,314.7 504.7,313.9 Z" fill="#262606" stroke="#262606" stroke-width="0.6" transform="translate(4.38,-2.29)"/>
<path d="M504.7,313.9 C505.3,313.0 507.1,311.7 508.9,310.6 C510.6,309.5 513.0,308.2 515.4,307.4 C517.7,306.5 520.6,306.0 522.8,305.5 C524.9,305.1 527.1,305.1 528.3,304.6 C529.5,304.1 529.6,303.8 530.2,302.8 C530.7,301.7 531.1,299.8 531.5,298.1 C532.0,296.4 532.5,294.1 532.9,292.6 C533.4,291.0 533.9,289.6 534.3,288.9 C534.8,288.1 535.1,287.8 535.7,288.0 C536.3,288.1 537.2,288.4 538.0,289.8 C538.8,291.2 539.6,293.8 540.3,296.3 C541.1,298.7 541.9,302.0 542.6,304.6 C543.4,307.2 544.4,310.5 545.0,312.0 C545.5,313.5 545.1,312.8 545.9,313.9 C546.6,314.9 548.2,316.6 549.6,318.5 C551.0,320.3 552.8,322.9 554.2,325.0 C555.6,327.0 557.0,329.0 557.9,330.5 C558.8,332.0 559.4,333.4 559.8,334.2 C560.1,335.1 560.7,335.2 560.2,335.6 C559.8,336.0 558.6,336.4 557.0,336.5 C555.4,336.7 552.4,336.5 550.5,336.5 C548.6,336.5 546.3,336.3 545.4,336.5 C544.5,336.7 545.0,336.7 545.0,337.9 C545.0,339.1 545.3,341.8 545.4,343.5 C545.5,345.2 545.6,346.9 545.4,348.1 C545.2,349.2 545.0,350.4 544.0,350.4 C543.0,350.4 540.8,349.5 539.4,348.1 C538.0,346.6 536.8,343.9 535.7,341.6 C534.6,339.3 533.6,336.1 532.9,334.2 C532.2,332.4 532.0,331.3 531.5,330.5 C531.1,329.7 531.3,330.2 530.2,329.6 C529.0,329.0 526.8,327.9 524.6,326.8 C522.4,325.7 519.7,324.5 517.2,323.1 C514.7,321.7 511.7,319.7 509.8,318.5 C507.9,317.2 506.5,316.5 505.6,315.7 C504.8,314.9 504.2,314.7 504.7,313.9 Z" fill="#262606" stroke="#262606" stroke-width="0.6" transform="translate(3.50,-1.83)"/>
<path d="M504.7,313.9 C505.3,313.0 507.1,311.7 508.9,310.6 C510.6,309.5 513.0,308.2 515.4,307.4 C517.7,306.5 520.6,306.0 522.8,305.5 C524.9,305.1 527.1,305.1 528.3,304.6 C529.5,304.1 529.6,303.8 530.2,302.8 C530.7,301.7 531.1,299.8 531.5,298.1 C532.0,296.4 532.5,294.1 532.9,292.6 C533.4,291.0 533.9,289.6 534.3,288.9 C534.8,288.1 535.1,287.8 535.7,288.0 C536.3,288.1 537.2,288.4 538.0,289.8 C538.8,291.2 539.6,293.8 540.3,296.3 C541.1,298.7 541.9,302.0 542.6,304.6 C543.4,307.2 544.4,310.5 545.0,312.0 C545.5,313.5 545.1,312.8 545.9,313.9 C546.6,314.9 548.2,316.6 549.6,318.5 C551.0,320.3 552.8,322.9 554.2,325.0 C555.6,327.0 557.0,329.0 557.9,330.5 C558.8,332.0 559.4,333.4 559.8,334.2 C560.1,335.1 560.7,335.2 560.2,335.6 C559.8,336.0 558.6,336.4 557.0,336.5 C555.4,336.7 552.4,336.5 550.5,336.5 C548.6,336.5 546.3,336.3 545.4,336.5 C544.5,336.7 545.0,336.7 545.0,337.9 C545.0,339.1 545.3,341.8 545.4,343.5 C545.5,345.2 545.6,346.9 545.4,348.1 C545.2,349.2 545.0,350.4 544.0,350.4 C543.0,350.4 540.8,349.5 539.4,348.1 C538.0,346.6 536.8,343.9 535.7,341.6 C534.6,339.3 533.6,336.1 532.9,334.2 C532.2,332.4 532.0,331.3 531.5,330.5 C531.1,329.7 531.3,330.2 530.2,329.6 C529.0,329.0 526.8,327.9 524.6,326.8 C522.4,325.7 519.7,324.5 517.2,323.1 C514.7,321.7 511.7,319.7 509.8,318.5 C507.9,317.2 506.5,316.5 505.6,315.7 C504.8,314.9 504.2,314.7 504.7,313.9 Z" fill="#262606" stroke="#262606" stroke-width="0.6" transform="translate(2.62,-1.38)"/>
<path d="M504.7,313.9 C505.3,313.0 507.1,311.7 508.9,310.6 C510.6,309.5 513.0,308.2 515.4,307.4 C517.7,306.5 520.6,306.0 522.8,305.5 C524.9,305.1 527.1,305.1 528.3,304.6 C529.5,304.1 529.6,303.8 530.2,302.8 C530.7,301.7 531.1,299.8 531.5,298.1 C532.0,296.4 532.5,294.1 532.9,292.6 C533.4,291.0 533.9,289.6 534.3,288.9 C534.8,288.1 535.1,287.8 535.7,288.0 C536.3,288.1 537.2,288.4 538.0,289.8 C538.8,291.2 539.6,293.8 540.3,296.3 C541.1,298.7 541.9,302.0 542.6,304.6 C543.4,307.2 544.4,310.5 545.0,312.0 C545.5,313.5 545.1,312.8 545.9,313.9 C546.6,314.9 548.2,316.6 549.6,318.5 C551.0,320.3 552.8,322.9 554.2,325.0 C555.6,327.0 557.0,329.0 557.9,330.5 C558.8,332.0 559.4,333.4 559.8,334.2 C560.1,335.1 560.7,335.2 560.2,335.6 C559.8,336.0 558.6,336.4 557.0,336.5 C555.4,336.7 552.4,336.5 550.5,336.5 C548.6,336.5 546.3,336.3 545.4,336.5 C544.5,336.7 545.0,336.7 545.0,337.9 C545.0,339.1 545.3,341.8 545.4,343.5 C545.5,345.2 545.6,346.9 545.4,348.1 C545.2,349.2 545.0,350.4 544.0,350.4 C543.0,350.4 540.8,349.5 539.4,348.1 C538.0,346.6 536.8,343.9 535.7,341.6 C534.6,339.3 533.6,336.1 532.9,334.2 C532.2,332.4 532.0,331.3 531.5,330.5 C531.1,329.7 531.3,330.2 530.2,329.6 C529.0,329.0 526.8,327.9 524.6,326.8 C522.4,325.7 519.7,324.5 517.2,323.1 C514.7,321.7 511.7,319.7 509.8,318.5 C507.9,317.2 506.5,316.5 505.6,315.7 C504.8,314.9 504.2,314.7 504.7,313.9 Z" fill="#55550c" stroke="#55550c" stroke-width="0.6" transform="translate(1.75,-0.92)"/>
<path d="M504.7,313.9 C505.3,313.0 507.1,311.7 508.9,310.6 C510.6,309.5 513.0,308.2 515.4,307.4 C517.7,306.5 520.6,306.0 522.8,305.5 C524.9,305.1 527.1,305.1 528.3,304.6 C529.5,304.1 529.6,303.8 530.2,302.8 C530.7,301.7 531.1,299.8 531.5,298.1 C532.0,296.4 532.5,294.1 532.9,292.6 C533.4,291.0 533.9,289.6 534.3,288.9 C534.8,288.1 535.1,287.8 535.7,288.0 C536.3,288.1 537.2,288.4 538.0,289.8 C538.8,291.2 539.6,293.8 540.3,296.3 C541.1,298.7 541.9,302.0 542.6,304.6 C543.4,307.2 544.4,310.5 545.0,312.0 C545.5,313.5 545.1,312.8 545.9,313.9 C546.6,314.9 548.2,316.6 549.6,318.5 C551.0,320.3 552.8,322.9 554.2,325.0 C555.6,327.0 557.0,329.0 557.9,330.5 C558.8,332.0 559.4,333.4 559.8,334.2 C560.1,335.1 560.7,335.2 560.2,335.6 C559.8,336.0 558.6,336.4 557.0,336.5 C555.4,336.7 552.4,336.5 550.5,336.5 C548.6,336.5 546.3,336.3 545.4,336.5 C544.5,336.7 545.0,336.7 545.0,337.9 C545.0,339.1 545.3,341.8 545.4,343.5 C545.5,345.2 545.6,346.9 545.4,348.1 C545.2,349.2 545.0,350.4 544.0,350.4 C543.0,350.4 540.8,349.5 539.4,348.1 C538.0,346.6 536.8,343.9 535.7,341.6 C534.6,339.3 533.6,336.1 532.9,334.2 C532.2,332.4 532.0,331.3 531.5,330.5 C531.1,329.7 531.3,330.2 530.2,329.6 C529.0,329.0 526.8,327.9 524.6,326.8 C522.4,325.7 519.7,324.5 517.2,323.1 C514.7,321.7 511.7,319.7 509.8,318.5 C507.9,317.2 506.5,316.5 505.6,315.7 C504.8,314.9 504.2,314.7 504.7,313.9 Z" fill="#55550c" stroke="#55550c" stroke-width="0.6" transform="translate(0.88,-0.46)"/>
<path d="M504.7,313.9 C505.3,313.0 507.1,311.7 508.9,310.6 C510.6,309.5 513.0,308.2 515.4,307.4 C517.7,306.5 520.6,306.0 522.8,305.5 C524.9,305.1 527.1,305.1 528.3,304.6 C529.5,304.1 529.6,303.8 530.2,302.8 C530.7,301.7 531.1,299.8 531.5,298.1 C532.0,296.4 532.5,294.1 532.9,292.6 C533.4,291.0 533.9,289.6 534.3,288.9 C534.8,288.1 535.1,287.8 535.7,288.0 C536.3,288.1 537.2,288.4 538.0,289.8 C538.8,291.2 539.6,293.8 540.3,296.3 C541.1,298.7 541.9,302.0 542.6,304.6 C543.4,307.2 544.4,310.5 545.0,312.0 C545.5,313.5 545.1,312.8 545.9,313.9 C546.6,314.9 548.2,316.6 549.6,318.5 C551.0,320.3 552.8,322.9 554.2,325.0 C555.6,327.0 557.0,329.0 557.9,330.5 C558.8,332.0 559.4,333.4 559.8,334.2 C560.1,335.1 560.7,335.2 560.2,335.6 C559.8,336.0 558.6,336.4 557.0,336.5 C555.4,336.7 552.4,336.5 550.5,336.5 C548.6,336.5 546.3,336.3 545.4,336.5 C544.5,336.7 545.0,336.7 545.0,337.9 C545.0,339.1 545.3,341.8 545.4,343.5 C545.5,345.2 545.6,346.9 545.4,348.1 C545.2,349.2 545.0,350.4 544.0,350.4 C543.0,350.4 540.8,349.5 539.4,348.1 C538.0,346.6 536.8,343.9 535.7,341.6 C534.6,339.3 533.6,336.1 532.9,334.2 C532.2,332.4 532.0,331.3 531.5,330.5 C531.1,329.7 531.3,330.2 530.2,329.6 C529.0,329.0 526.8,327.9 524.6,326.8 C522.4,325.7 519.7,324.5 517.2,323.1 C514.7,321.7 511.7,319.7 509.8,318.5 C507.9,317.2 506.5,316.5 505.6,315.7 C504.8,314.9 504.2,314.7 504.7,313.9 Z" fill="#FFFF1E"/>
<text x="520.1" y="172.7" font-size="24.5" font-weight="bold" font-style="normal" fill="#fff" text-anchor="start" textLength="108" lengthAdjust="spacingAndGlyphs" stroke="#fff" stroke-width="0.55" >W = 3 µm</text>
<text x="606" y="274.8" font-size="24.3" font-weight="bold" font-style="normal" fill="#fff" text-anchor="start" textLength="100.5" lengthAdjust="spacingAndGlyphs" stroke="#fff" stroke-width="0.55" >H = 3 µm</text>
<text x="572" y="335.5" font-size="24.4" font-weight="bold" font-style="normal" fill="#F5F520" text-anchor="start" textLength="77" lengthAdjust="spacingAndGlyphs" stroke="#F5F520" stroke-width="0.55" >Crystal</text>
<text x="506.4" y="474.4" font-size="24" font-weight="bold" font-style="normal" fill="#111" text-anchor="start" textLength="172" lengthAdjust="spacingAndGlyphs" stroke="#111" stroke-width="0.55" >Glass substrate</text>
<path d="M0,0 L8.3,-4.8 L8.3,-1.5 L49.49999999999996,-1.5 L49.49999999999996,-4.8 L57.799999999999955,0 L49.49999999999996,4.8 L49.49999999999996,1.5 L8.3,1.5 L8.3,4.8 Z" fill="#fff" transform="translate(526.1,188.2) rotate(0.00)"/>
<path d="M0,0 L6.5,-3.6 L6.5,-1.1 L26.413371143047627,-1.1 L26.413371143047627,-3.6 L32.91337114304763,0 L26.413371143047627,3.6 L26.413371143047627,1.1 L6.5,1.1 L6.5,3.6 Z" fill="#fff" transform="translate(669.4,305.7) rotate(-31.71)"/>
<path d="M781,47.6 C769,47.6 763.9,51 763.9,62 L763.9,265 C763.9,272 758,275.9 750,275.9 L732.8,275.9 M750,275.9 C758,275.9 763.9,280 763.9,287 L763.9,490 C763.9,500 769,504.7 781,504.7" fill="none" stroke="#000" stroke-width="3.1"/>
<text x="792.2" y="57.9" font-size="24" font-weight="bold" font-style="normal" fill="#111" text-anchor="start" textLength="165.2" lengthAdjust="spacingAndGlyphs" stroke="#111" stroke-width="0.55" >a) non-coating</text>
<rect x="792.3" y="85.5" width="256.7" height="37.9" fill="#1F3864"/>
<text x="920.5" y="115.3" font-size="28" font-weight="bold" font-style="normal" fill="#fff" text-anchor="middle" textLength="69" lengthAdjust="spacingAndGlyphs" stroke="#fff" stroke-width="0.55" >Glass</text>
<text x="788.1" y="158.6" font-size="24" font-weight="bold" font-style="normal" fill="#111" text-anchor="start" textLength="113" lengthAdjust="spacingAndGlyphs" stroke="#111" stroke-width="0.55" >b) coating</text>
<text x="813" y="192.4" font-size="21.6" font-weight="bold" font-style="normal" fill="#111" text-anchor="start" textLength="12.5" lengthAdjust="spacingAndGlyphs" stroke="#111" stroke-width="0.55" >R</text>
<text x="909.2" y="188.7" font-size="21.6" font-weight="bold" font-style="normal" fill="#111" text-anchor="start" textLength="12.9" lengthAdjust="spacingAndGlyphs" stroke="#111" stroke-width="0.55" >R</text>
<text x="1006.5" y="188.7" font-size="21.6" font-weight="bold" font-style="normal" fill="#111" text-anchor="start" textLength="13.5" lengthAdjust="spacingAndGlyphs" stroke="#111" stroke-width="0.55" >R</text>
<path d="M822.4,196.0 L808.5,221.0 L825.0,242.6 L808.5,265.7 L825.0,287.0 L808.5,307.0 L822.0,325.0" fill="none" stroke="#000" stroke-width="2.6" stroke-linejoin="miter"/>
<path d="M918.0,192.5 L905.0,216.0 L921.0,239.0 L905.0,262.0 L921.0,284.0 L905.0,303.7 L918.0,322.0" fill="none" stroke="#000" stroke-width="2.6" stroke-linejoin="miter"/>
<path d="M1016.5,192.5 L1003.5,216.0 L1019.5,239.0 L1003.5,262.0 L1019.5,284.0 L1003.5,303.7 L1016.5,322.0" fill="none" stroke="#000" stroke-width="2.6" stroke-linejoin="miter"/>
<text x="808" y="346.7" font-size="25" font-weight="bold" font-style="normal" fill="#111" text-anchor="start" textLength="19" lengthAdjust="spacingAndGlyphs" stroke="#111" stroke-width="0.55" >Si</text>
<text x="906.6" y="346.7" font-size="25" font-weight="bold" font-style="normal" fill="#111" text-anchor="start" textLength="19.0" lengthAdjust="spacingAndGlyphs" stroke="#111" stroke-width="0.55" >Si</text>
<text x="1005.7" y="346.7" font-size="25" font-weight="bold" font-style="normal" fill="#111" text-anchor="start" textLength="18.399999999999864" lengthAdjust="spacingAndGlyphs" stroke="#111" stroke-width="0.55" >Si</text>
<text x="858" y="346.7" font-size="25" font-weight="bold" font-style="normal" fill="#111" text-anchor="start" textLength="16.899999999999977" lengthAdjust="spacingAndGlyphs" stroke="#111" stroke-width="0.55" >O</text>
<text x="958.3" y="346.7" font-size="25" font-weight="bold" font-style="normal" fill="#111" text-anchor="start" textLength="17.90000000000009" lengthAdjust="spacingAndGlyphs" stroke="#111" stroke-width="0.55" >O</text>
<rect x="834.8" y="336" width="19.0" height="2.6" fill="#111"/>
<rect x="884.4" y="336" width="19.0" height="2.6" fill="#111"/>
<rect x="935" y="336" width="20.100000000000023" height="2.6" fill="#111"/>
<rect x="983.6" y="336" width="19.0" height="2.6" fill="#111"/>
<rect x="821.5" y="357.2" width="2.6" height="19.5" fill="#111"/>
<rect x="919.0" y="357.2" width="2.6" height="19.5" fill="#111"/>
<rect x="1016.0" y="357.2" width="2.6" height="19.5" fill="#111"/>
<rect x="798.3" y="376.3" width="255.9" height="38" fill="#1F3864"/>
<text x="926.4" y="406" font-size="28" font-weight="bold" font-style="normal" fill="#fff" text-anchor="middle" textLength="69" lengthAdjust="spacingAndGlyphs" stroke="#fff" stroke-width="0.55" >Glass</text>
<rect x="790.1" y="438.0" width="19.299999999999955" height="2.7" fill="#111"/>
<text x="814.9" y="448.3" font-size="21" font-weight="bold" font-style="normal" fill="#111" text-anchor="start" textLength="13.2" lengthAdjust="spacingAndGlyphs" stroke="#111" stroke-width="0.55" >R</text>
<rect x="844.2" y="438.09999999999997" width="11.399999999999977" height="2.7" fill="#111"/>
<rect x="844.2" y="443.9" width="11.399999999999977" height="2.7" fill="#111"/>
<rect x="871.7" y="440.2" width="19.299999999999955" height="2.7" fill="#111"/>
<text x="895.6" y="450.3" font-size="23.7" font-weight="bold" font-style="normal" fill="#111" text-anchor="start" textLength="67.9" lengthAdjust="spacingAndGlyphs" stroke="#111" stroke-width="0.55" >COOH</text>
<rect x="873.6" y="467.7" width="17.399999999999977" height="2.7" fill="#111"/>
<text x="897.4" y="479.1" font-size="23.7" font-weight="bold" font-style="normal" fill="#111" text-anchor="start" textLength="31.5" lengthAdjust="spacingAndGlyphs" stroke="#111" stroke-width="0.55" >SO</text>
<text x="928.6" y="485.2" font-size="15" font-weight="bold" font-style="normal" fill="#111" text-anchor="start" textLength="9.2" lengthAdjust="spacingAndGlyphs" stroke="#111" stroke-width="0.55" >3</text>
<text x="939.6" y="479.1" font-size="23.7" font-weight="bold" font-style="normal" fill="#111" text-anchor="start" textLength="13.8" lengthAdjust="spacingAndGlyphs" stroke="#111" stroke-width="0.55" >H</text>
<rect x="873.6" y="500.8" width="17.399999999999977" height="2.7" fill="#111"/>
<text x="898.3" y="511.2" font-size="23.7" font-weight="bold" font-style="normal" fill="#111" text-anchor="start" textLength="28.5" lengthAdjust="spacingAndGlyphs" stroke="#111" stroke-width="0.55" >PO</text>
<text x="929.5" y="516.7" font-size="15" font-weight="bold" font-style="normal" fill="#111" text-anchor="start" textLength="8.3" lengthAdjust="spacingAndGlyphs" stroke="#111" stroke-width="0.55" >3</text>
<text x="941.5" y="511.2" font-size="23.7" font-weight="bold" font-style="normal" fill="#111" text-anchor="start" textLength="12.8" lengthAdjust="spacingAndGlyphs" stroke="#111" stroke-width="0.55" >H</text>
<text x="956.1" y="517.7" font-size="15" font-weight="bold" font-style="normal" fill="#111" text-anchor="start" textLength="10.1" lengthAdjust="spacingAndGlyphs" stroke="#111" stroke-width="0.55" >2</text>
<rect x="433" y="26.2" width="639.5" height="498.5" fill="none" stroke="#000" stroke-width="3" stroke-dasharray="13 10.381" stroke-dashoffset="0"/>
<defs><clipPath id="cb"><rect x="40" y="544.5" width="329.5" height="310.0"/></clipPath><clipPath id="cch"><ellipse cx="203.2" cy="701.8" rx="116" ry="119.3"/></clipPath><pattern id="pdot" width="12.15" height="12.0" patternUnits="userSpaceOnUse" patternTransform="translate(187.3,603.9) rotate(-2)"><circle cx="0" cy="0" r="3.7" fill="#868686"/><circle cx="0" cy="0" r="1.7" fill="#9c9c9c"/><circle cx="12.15" cy="0" r="3.7" fill="#868686"/><circle cx="12.15" cy="0" r="1.7" fill="#9c9c9c"/><circle cx="0" cy="12" r="3.7" fill="#868686"/><circle cx="0" cy="12" r="1.7" fill="#9c9c9c"/><circle cx="12.15" cy="12" r="3.7" fill="#868686"/><circle cx="12.15" cy="12" r="1.7" fill="#9c9c9c"/></pattern><pattern id="pring" width="12.1" height="12.1" patternUnits="userSpaceOnUse" patternTransform="translate(154,702.1) rotate(-2)"><circle cx="0" cy="0" r="3.0" fill="none" stroke="#7c7c7c" stroke-width="1.6"/><circle cx="12.1" cy="0" r="3.0" fill="none" stroke="#7c7c7c" stroke-width="1.6"/><circle cx="0" cy="12.1" r="3.0" fill="none" stroke="#7c7c7c" stroke-width="1.6"/><circle cx="12.1" cy="12.1" r="3.0" fill="none" stroke="#7c7c7c" stroke-width="1.6"/></pattern></defs>
<defs><filter id="blb" x="0" y="0" width="100%" height="100%"><feGaussianBlur stdDeviation="0.7"/></filter></defs>
<g clip-path="url(#cb)"><g filter="url(#blb)">
<rect x="37" y="541.5" width="335.5" height="316.0" fill="#b4b4b4"/>
<rect x="363.5" y="544.5" width="7" height="310" fill="#adadad"/>
<rect x="40" y="681" width="60" height="50" fill="#adadad"/>
<path d="M70.9,658.2 A139,142 0 1 1 73.2,752.0" fill="none" stroke="#5e5e5e" stroke-width="19.8" stroke-linecap="round"/>
<path d="M70.9,658.2 A139,142 0 1 1 73.2,752.0" fill="none" stroke="#adadad" stroke-width="15.4" stroke-linecap="round"/>
<path d="M336,633.6 L369.5,633.6 L369.5,756 L336,756 Q344,700 336,633.6 Z" fill="#adadad"/>
<path d="M363.5,544.5 L363.5,628 Q363.5,633.6 358,633.6 L341,633.6 Q337,633 333,628" fill="none" stroke="#6a6a6a" stroke-width="1.5"/>
<path d="M369.5,756 L341,756 Q337,757 333,762" fill="none" stroke="#6a6a6a" stroke-width="1.5"/>
<path d="M321.9,645.2 A131,134 0 0 1 321.9,758.4" fill="none" stroke="#6a6a6a" stroke-width="1.5"/>
<path d="M40.5,681 L80,681 Q86,681 89,673 L92,664" fill="none" stroke="#6e6e6e" stroke-width="1.5"/>
<path d="M40.5,731 L80,731 Q86,731 89,739 L92,747" fill="none" stroke="#6e6e6e" stroke-width="1.5"/>
<ellipse cx="203.2" cy="701.8" rx="116" ry="119.3" fill="#b2b2b2" stroke="#7c7c7c" stroke-width="1.8"/>
<g clip-path="url(#cch)">
<rect x="80" y="575" width="250" height="255" fill="url(#pdot)"/>
<path d="M120.0,739.9 L122.2,733.9 L124.6,726.4 L125.0,722.1 L130.6,713.2 L137.3,706.4 L141.8,698.9 L145.0,695.1 L148.7,693.7 L152.1,690.4 L157.4,687.5 L162.6,687.6 L166.4,685.0 L173.9,685.4 L179.8,685.8 L185.9,685.3 L190.1,684.4 L195.1,684.1 L201.1,681.4 L203.0,681.5 L208.7,681.8 L211.6,681.2 L215.0,682.3 L218.3,683.6 L222.6,685.3 L227.8,685.9 L233.1,686.7 L237.6,685.3 L243.0,688.4 L248.0,688.7 L252.5,689.1 L256.5,692.4 L258.8,693.7 L263.8,698.4 L265.7,701.6 L270.3,703.8 L273.7,708.9 L278.2,711.5 L280.6,715.9 L283.9,720.9 L286.2,727.4 L287.1,732.3 L288.5,735.0 L291.1,740.4 L291.9,746.9 L294.8,751.9 L294.6,759.1 L296.5,764.9 L299.2,769.1 L295.0,773.1 L292.4,777.0 L289.1,780.8 L282.7,785.5 L274.0,790.9 L266.2,794.8 L258.1,799.1 L247.2,801.5 L237.0,806.6 L226.2,809.1 L217.8,810.3 L207.9,813.7 L198.2,814.0 L188.4,815.6 L176.9,814.5 L169.8,813.6 L160.1,809.4 L152.2,806.0 L145.5,801.0 L139.4,796.8 L133.1,791.3 L130.6,783.1 L126.4,777.4 L122.0,768.7 L122.0,762.6 L119.3,756.9 L119.3,749.9 L119.0,746.8 L120.8,743.4 Z" fill="#a4a4a4" stroke="#555" stroke-width="1.5"/>
<path d="M120.0,739.9 L122.2,733.9 L124.6,726.4 L125.0,722.1 L130.6,713.2 L137.3,706.4 L141.8,698.9 L145.0,695.1 L148.7,693.7 L152.1,690.4 L157.4,687.5 L162.6,687.6 L166.4,685.0 L173.9,685.4 L179.8,685.8 L185.9,685.3 L190.1,684.4 L195.1,684.1 L201.1,681.4 L203.0,681.5 L208.7,681.8 L211.6,681.2 L215.0,682.3 L218.3,683.6 L222.6,685.3 L227.8,685.9 L233.1,686.7 L237.6,685.3 L243.0,688.4 L248.0,688.7 L252.5,689.1 L256.5,692.4 L258.8,693.7 L263.8,698.4 L265.7,701.6 L270.3,703.8 L273.7,708.9 L278.2,711.5 L280.6,715.9 L283.9,720.9 L286.2,727.4 L287.1,732.3 L288.5,735.0 L291.1,740.4 L291.9,746.9 L294.8,751.9 L294.6,759.1 L296.5,764.9 L299.2,769.1 L295.0,773.1 L292.4,777.0 L289.1,780.8 L282.7,785.5 L274.0,790.9 L266.2,794.8 L258.1,799.1 L247.2,801.5 L237.0,806.6 L226.2,809.1 L217.8,810.3 L207.9,813.7 L198.2,814.0 L188.4,815.6 L176.9,814.5 L169.8,813.6 L160.1,809.4 L152.2,806.0 L145.5,801.0 L139.4,796.8 L133.1,791.3 L130.6,783.1 L126.4,777.4 L122.0,768.7 L122.0,762.6 L119.3,756.9 L119.3,749.9 L119.0,746.8 L120.8,743.4 Z" fill="url(#pring)"/>
</g>
</g></g>
<text x="0" y="0" transform="translate(52.2,586.6) scale(1.06,1)" font-size="46" font-weight="normal" font-style="normal" fill="#000" text-anchor="start" stroke="#000" stroke-width="0.3" >b</text>
<defs><clipPath id="cc"><rect x="389.6" y="548.5" width="407.4" height="303.5"/></clipPath></defs>
<g clip-path="url(#cc)">
<rect x="389.6" y="548.5" width="407.4" height="303.5" fill="#565656"/>
<defs><filter id="bl0" x="-5%" y="-5%" width="110%" height="110%"><feGaussianBlur stdDeviation="0.6"/></filter><filter id="bl1" x="-5%" y="-5%" width="110%" height="110%"><feGaussianBlur stdDeviation="1.2"/></filter><filter id="bl2" x="-10%" y="-10%" width="120%" height="120%"><feGaussianBlur stdDeviation="1.5"/></filter><filter id="bl3" x="-20%" y="-20%" width="140%" height="140%"><feGaussianBlur stdDeviation="4"/></filter></defs>
<g filter="url(#bl1)">
<rect x="643" y="774" width="4" height="4" fill="rgb(104,104,104)"/>
<rect x="765" y="557" width="2" height="4" fill="rgb(92,92,92)"/>
<rect x="411" y="596" width="3" height="2" fill="rgb(74,74,74)"/>
<rect x="545" y="579" width="2" height="4" fill="rgb(68,68,68)"/>
<rect x="478" y="633" width="2" height="2" fill="rgb(92,92,92)"/>
<rect x="446" y="736" width="2" height="2" fill="rgb(68,68,68)"/>
<rect x="786" y="550" width="2" height="2" fill="rgb(68,68,68)"/>
<rect x="507" y="840" width="4" height="4" fill="rgb(98,98,98)"/>
<rect x="473" y="834" width="2" height="3" fill="rgb(104,104,104)"/>
<rect x="511" y="658" width="2" height="3" fill="rgb(68,68,68)"/>
<rect x="416" y="640" width="4" height="2" fill="rgb(98,98,98)"/>
<rect x="632" y="763" width="3" height="3" fill="rgb(62,62,62)"/>
<rect x="723" y="694" width="2" height="3" fill="rgb(74,74,74)"/>
<rect x="582" y="602" width="2" height="4" fill="rgb(74,74,74)"/>
<rect x="535" y="671" width="3" height="3" fill="rgb(98,98,98)"/>
<rect x="543" y="804" width="2" height="4" fill="rgb(92,92,92)"/>
<rect x="463" y="838" width="2" height="2" fill="rgb(68,68,68)"/>
<rect x="768" y="834" width="4" height="3" fill="rgb(74,74,74)"/>
<rect x="753" y="625" width="2" height="4" fill="rgb(92,92,92)"/>
<rect x="694" y="790" width="2" height="3" fill="rgb(74,74,74)"/>
<rect x="775" y="576" width="4" height="4" fill="rgb(74,74,74)"/>
<rect x="537" y="593" width="4" height="4" fill="rgb(74,74,74)"/>
<rect x="427" y="757" width="2" height="2" fill="rgb(74,74,74)"/>
<rect x="645" y="767" width="3" height="2" fill="rgb(74,74,74)"/>
<rect x="683" y="573" width="4" height="3" fill="rgb(98,98,98)"/>
<rect x="403" y="773" width="3" height="3" fill="rgb(74,74,74)"/>
<rect x="655" y="593" width="2" height="3" fill="rgb(104,104,104)"/>
<rect x="526" y="611" width="4" height="2" fill="rgb(104,104,104)"/>
<rect x="646" y="788" width="2" height="3" fill="rgb(62,62,62)"/>
<rect x="542" y="566" width="3" height="2" fill="rgb(92,92,92)"/>
<rect x="574" y="852" width="4" height="3" fill="rgb(68,68,68)"/>
<rect x="781" y="758" width="3" height="3" fill="rgb(74,74,74)"/>
<rect x="508" y="671" width="2" height="3" fill="rgb(68,68,68)"/>
<rect x="725" y="710" width="4" height="3" fill="rgb(68,68,68)"/>
<rect x="743" y="603" width="3" height="4" fill="rgb(92,92,92)"/>
<rect x="708" y="812" width="2" height="3" fill="rgb(74,74,74)"/>
<rect x="673" y="750" width="3" height="4" fill="rgb(74,74,74)"/>
<rect x="677" y="634" width="3" height="4" fill="rgb(92,92,92)"/>
<rect x="681" y="839" width="4" height="2" fill="rgb(74,74,74)"/>
<rect x="626" y="552" width="3" height="3" fill="rgb(98,98,98)"/>
<rect x="663" y="689" width="4" height="4" fill="rgb(98,98,98)"/>
<rect x="715" y="654" width="3" height="4" fill="rgb(104,104,104)"/>
<rect x="772" y="672" width="4" height="3" fill="rgb(68,68,68)"/>
<rect x="787" y="839" width="2" height="4" fill="rgb(98,98,98)"/>
<rect x="789" y="609" width="3" height="3" fill="rgb(74,74,74)"/>
<rect x="671" y="767" width="3" height="2" fill="rgb(104,104,104)"/>
<rect x="641" y="833" width="4" height="3" fill="rgb(98,98,98)"/>
<rect x="513" y="716" width="3" height="4" fill="rgb(104,104,104)"/>
<rect x="795" y="608" width="3" height="4" fill="rgb(98,98,98)"/>
<rect x="654" y="615" width="2" height="4" fill="rgb(104,104,104)"/>
<rect x="682" y="848" width="2" height="2" fill="rgb(68,68,68)"/>
<rect x="753" y="582" width="3" height="2" fill="rgb(68,68,68)"/>
<rect x="613" y="675" width="3" height="4" fill="rgb(74,74,74)"/>
<rect x="639" y="728" width="4" height="3" fill="rgb(68,68,68)"/>
<rect x="390" y="672" width="3" height="2" fill="rgb(74,74,74)"/>
<rect x="670" y="715" width="4" height="4" fill="rgb(62,62,62)"/>
<rect x="512" y="638" width="3" height="4" fill="rgb(98,98,98)"/>
<rect x="509" y="655" width="3" height="3" fill="rgb(68,68,68)"/>
<rect x="721" y="743" width="3" height="2" fill="rgb(74,74,74)"/>
<rect x="453" y="665" width="2" height="2" fill="rgb(92,92,92)"/>
<rect x="638" y="655" width="2" height="3" fill="rgb(104,104,104)"/>
<rect x="434" y="720" width="4" height="2" fill="rgb(98,98,98)"/>
<rect x="522" y="815" width="3" height="3" fill="rgb(98,98,98)"/>
<rect x="565" y="617" width="3" height="4" fill="rgb(74,74,74)"/>
<rect x="544" y="840" width="4" height="4" fill="rgb(68,68,68)"/>
<rect x="495" y="846" width="3" height="3" fill="rgb(92,92,92)"/>
<rect x="398" y="835" width="3" height="3" fill="rgb(74,74,74)"/>
<rect x="448" y="556" width="4" height="3" fill="rgb(104,104,104)"/>
<rect x="490" y="561" width="3" height="2" fill="rgb(68,68,68)"/>
<rect x="585" y="719" width="3" height="2" fill="rgb(68,68,68)"/>
<rect x="490" y="630" width="4" height="3" fill="rgb(68,68,68)"/>
<rect x="509" y="733" width="4" height="4" fill="rgb(92,92,92)"/>
<rect x="741" y="816" width="2" height="2" fill="rgb(62,62,62)"/>
<rect x="512" y="710" width="4" height="3" fill="rgb(74,74,74)"/>
<rect x="688" y="557" width="3" height="4" fill="rgb(74,74,74)"/>
<rect x="693" y="728" width="2" height="3" fill="rgb(62,62,62)"/>
<rect x="615" y="757" width="4" height="4" fill="rgb(62,62,62)"/>
<rect x="467" y="679" width="4" height="4" fill="rgb(92,92,92)"/>
<rect x="670" y="838" width="3" height="3" fill="rgb(104,104,104)"/>
<rect x="583" y="756" width="2" height="3" fill="rgb(104,104,104)"/>
<rect x="579" y="779" width="2" height="4" fill="rgb(74,74,74)"/>
<rect x="707" y="725" width="3" height="3" fill="rgb(104,104,104)"/>
<rect x="448" y="694" width="3" height="3" fill="rgb(98,98,98)"/>
<rect x="609" y="678" width="2" height="2" fill="rgb(98,98,98)"/>
<rect x="688" y="630" width="2" height="4" fill="rgb(62,62,62)"/>
<rect x="773" y="650" width="2" height="3" fill="rgb(92,92,92)"/>
<rect x="675" y="563" width="2" height="4" fill="rgb(62,62,62)"/>
<rect x="653" y="838" width="2" height="3" fill="rgb(104,104,104)"/>
<rect x="677" y="681" width="4" height="2" fill="rgb(68,68,68)"/>
<rect x="558" y="597" width="2" height="2" fill="rgb(98,98,98)"/>
<rect x="616" y="749" width="2" height="3" fill="rgb(104,104,104)"/>
<rect x="413" y="723" width="3" height="4" fill="rgb(104,104,104)"/>
<rect x="444" y="680" width="4" height="4" fill="rgb(74,74,74)"/>
<rect x="589" y="656" width="3" height="2" fill="rgb(104,104,104)"/>
<rect x="446" y="638" width="4" height="4" fill="rgb(98,98,98)"/>
<rect x="596" y="825" width="4" height="4" fill="rgb(98,98,98)"/>
<rect x="479" y="568" width="3" height="3" fill="rgb(68,68,68)"/>
<rect x="600" y="589" width="3" height="3" fill="rgb(68,68,68)"/>
<rect x="690" y="603" width="2" height="4" fill="rgb(104,104,104)"/>
<rect x="529" y="722" width="2" height="2" fill="rgb(62,62,62)"/>
<rect x="596" y="686" width="3" height="3" fill="rgb(92,92,92)"/>
<rect x="782" y="581" width="2" height="4" fill="rgb(98,98,98)"/>
<rect x="685" y="565" width="3" height="4" fill="rgb(68,68,68)"/>
<rect x="713" y="776" width="4" height="3" fill="rgb(62,62,62)"/>
<rect x="724" y="591" width="3" height="3" fill="rgb(98,98,98)"/>
<rect x="730" y="636" width="4" height="3" fill="rgb(98,98,98)"/>
<rect x="714" y="663" width="3" height="4" fill="rgb(104,104,104)"/>
<rect x="510" y="740" width="4" height="2" fill="rgb(74,74,74)"/>
<rect x="631" y="722" width="2" height="3" fill="rgb(104,104,104)"/>
<rect x="415" y="560" width="2" height="2" fill="rgb(68,68,68)"/>
<rect x="406" y="818" width="4" height="3" fill="rgb(92,92,92)"/>
<rect x="390" y="691" width="3" height="3" fill="rgb(98,98,98)"/>
<rect x="579" y="579" width="4" height="2" fill="rgb(68,68,68)"/>
<rect x="419" y="812" width="2" height="4" fill="rgb(92,92,92)"/>
<rect x="493" y="633" width="3" height="4" fill="rgb(68,68,68)"/>
<rect x="485" y="695" width="3" height="3" fill="rgb(62,62,62)"/>
<rect x="518" y="566" width="4" height="3" fill="rgb(62,62,62)"/>
<rect x="582" y="835" width="4" height="3" fill="rgb(62,62,62)"/>
<rect x="508" y="753" width="2" height="2" fill="rgb(104,104,104)"/>
<rect x="471" y="556" width="4" height="2" fill="rgb(68,68,68)"/>
<rect x="641" y="825" width="3" height="4" fill="rgb(104,104,104)"/>
<rect x="517" y="691" width="2" height="4" fill="rgb(74,74,74)"/>
<rect x="794" y="691" width="2" height="4" fill="rgb(68,68,68)"/>
<rect x="475" y="562" width="3" height="4" fill="rgb(98,98,98)"/>
<rect x="787" y="550" width="3" height="4" fill="rgb(62,62,62)"/>
<rect x="557" y="562" width="4" height="4" fill="rgb(98,98,98)"/>
<rect x="532" y="577" width="2" height="3" fill="rgb(62,62,62)"/>
<rect x="427" y="692" width="2" height="4" fill="rgb(104,104,104)"/>
<rect x="410" y="669" width="2" height="3" fill="rgb(62,62,62)"/>
<rect x="729" y="684" width="2" height="2" fill="rgb(104,104,104)"/>
<rect x="777" y="608" width="4" height="4" fill="rgb(104,104,104)"/>
<rect x="554" y="710" width="3" height="2" fill="rgb(62,62,62)"/>
<rect x="425" y="847" width="4" height="2" fill="rgb(68,68,68)"/>
<rect x="739" y="614" width="3" height="4" fill="rgb(62,62,62)"/>
<rect x="535" y="677" width="4" height="4" fill="rgb(92,92,92)"/>
<rect x="444" y="552" width="4" height="3" fill="rgb(74,74,74)"/>
<rect x="753" y="852" width="2" height="2" fill="rgb(98,98,98)"/>
<rect x="517" y="575" width="3" height="3" fill="rgb(74,74,74)"/>
<rect x="444" y="711" width="2" height="4" fill="rgb(92,92,92)"/>
<rect x="424" y="679" width="4" height="2" fill="rgb(98,98,98)"/>
<rect x="502" y="698" width="2" height="4" fill="rgb(68,68,68)"/>
<rect x="471" y="635" width="2" height="2" fill="rgb(74,74,74)"/>
<rect x="561" y="644" width="2" height="3" fill="rgb(98,98,98)"/>
<rect x="656" y="779" width="2" height="3" fill="rgb(98,98,98)"/>
<rect x="448" y="757" width="4" height="2" fill="rgb(62,62,62)"/>
<rect x="675" y="630" width="4" height="2" fill="rgb(92,92,92)"/>
<rect x="520" y="642" width="3" height="3" fill="rgb(68,68,68)"/>
<rect x="665" y="635" width="4" height="4" fill="rgb(62,62,62)"/>
<rect x="617" y="557" width="2" height="3" fill="rgb(62,62,62)"/>
<rect x="567" y="627" width="2" height="2" fill="rgb(98,98,98)"/>
<rect x="604" y="587" width="3" height="3" fill="rgb(68,68,68)"/>
<rect x="395" y="726" width="4" height="2" fill="rgb(68,68,68)"/>
<rect x="499" y="732" width="4" height="2" fill="rgb(104,104,104)"/>
<rect x="571" y="833" width="2" height="3" fill="rgb(92,92,92)"/>
<rect x="519" y="826" width="4" height="3" fill="rgb(92,92,92)"/>
<rect x="459" y="563" width="2" height="4" fill="rgb(104,104,104)"/>
<rect x="582" y="698" width="2" height="2" fill="rgb(62,62,62)"/>
<rect x="721" y="676" width="2" height="2" fill="rgb(62,62,62)"/>
<rect x="403" y="724" width="4" height="3" fill="rgb(92,92,92)"/>
<rect x="550" y="614" width="2" height="3" fill="rgb(74,74,74)"/>
<rect x="619" y="657" width="3" height="3" fill="rgb(68,68,68)"/>
<rect x="719" y="796" width="2" height="4" fill="rgb(104,104,104)"/>
<rect x="591" y="654" width="2" height="3" fill="rgb(68,68,68)"/>
<rect x="545" y="577" width="2" height="4" fill="rgb(92,92,92)"/>
<rect x="504" y="828" width="3" height="4" fill="rgb(74,74,74)"/>
<rect x="581" y="710" width="2" height="3" fill="rgb(62,62,62)"/>
<rect x="670" y="580" width="4" height="4" fill="rgb(98,98,98)"/>
<rect x="465" y="667" width="4" height="2" fill="rgb(74,74,74)"/>
<rect x="638" y="704" width="3" height="4" fill="rgb(98,98,98)"/>
<rect x="676" y="670" width="4" height="4" fill="rgb(98,98,98)"/>
<rect x="663" y="711" width="3" height="4" fill="rgb(92,92,92)"/>
<rect x="398" y="782" width="3" height="3" fill="rgb(68,68,68)"/>
<rect x="421" y="575" width="4" height="4" fill="rgb(74,74,74)"/>
<rect x="741" y="834" width="3" height="2" fill="rgb(92,92,92)"/>
<rect x="501" y="766" width="2" height="2" fill="rgb(62,62,62)"/>
<rect x="663" y="839" width="4" height="4" fill="rgb(74,74,74)"/>
<rect x="636" y="719" width="4" height="2" fill="rgb(92,92,92)"/>
<rect x="755" y="621" width="3" height="3" fill="rgb(98,98,98)"/>
<rect x="784" y="752" width="2" height="4" fill="rgb(92,92,92)"/>
<rect x="605" y="611" width="4" height="3" fill="rgb(104,104,104)"/>
<rect x="547" y="582" width="4" height="4" fill="rgb(104,104,104)"/>
<rect x="681" y="662" width="2" height="3" fill="rgb(62,62,62)"/>
<rect x="514" y="630" width="2" height="2" fill="rgb(98,98,98)"/>
<rect x="421" y="674" width="2" height="4" fill="rgb(68,68,68)"/>
<rect x="415" y="720" width="4" height="4" fill="rgb(104,104,104)"/>
<rect x="555" y="619" width="4" height="4" fill="rgb(92,92,92)"/>
<rect x="758" y="640" width="2" height="4" fill="rgb(74,74,74)"/>
<rect x="752" y="649" width="2" height="2" fill="rgb(92,92,92)"/>
<rect x="437" y="719" width="4" height="2" fill="rgb(98,98,98)"/>
<rect x="566" y="647" width="4" height="4" fill="rgb(62,62,62)"/>
<rect x="524" y="572" width="2" height="4" fill="rgb(92,92,92)"/>
<rect x="780" y="645" width="4" height="3" fill="rgb(92,92,92)"/>
<rect x="767" y="618" width="4" height="3" fill="rgb(104,104,104)"/>
<rect x="732" y="549" width="2" height="2" fill="rgb(104,104,104)"/>
<rect x="427" y="595" width="2" height="4" fill="rgb(98,98,98)"/>
<rect x="698" y="772" width="4" height="4" fill="rgb(68,68,68)"/>
<rect x="779" y="738" width="3" height="2" fill="rgb(62,62,62)"/>
<rect x="721" y="608" width="3" height="2" fill="rgb(74,74,74)"/>
<rect x="576" y="755" width="2" height="2" fill="rgb(104,104,104)"/>
<rect x="554" y="713" width="2" height="2" fill="rgb(92,92,92)"/>
<rect x="789" y="840" width="4" height="2" fill="rgb(68,68,68)"/>
<rect x="591" y="841" width="2" height="3" fill="rgb(104,104,104)"/>
<rect x="699" y="767" width="2" height="2" fill="rgb(74,74,74)"/>
<rect x="719" y="852" width="2" height="3" fill="rgb(104,104,104)"/>
<rect x="545" y="637" width="4" height="4" fill="rgb(92,92,92)"/>
<rect x="702" y="575" width="3" height="3" fill="rgb(62,62,62)"/>
<rect x="527" y="806" width="3" height="2" fill="rgb(98,98,98)"/>
<rect x="479" y="848" width="4" height="4" fill="rgb(74,74,74)"/>
<rect x="419" y="631" width="4" height="3" fill="rgb(62,62,62)"/>
<rect x="566" y="603" width="2" height="2" fill="rgb(92,92,92)"/>
<rect x="574" y="588" width="2" height="2" fill="rgb(62,62,62)"/>
<rect x="537" y="553" width="4" height="3" fill="rgb(74,74,74)"/>
<rect x="779" y="812" width="2" height="2" fill="rgb(62,62,62)"/>
<rect x="469" y="792" width="3" height="4" fill="rgb(62,62,62)"/>
<rect x="424" y="633" width="3" height="4" fill="rgb(104,104,104)"/>
<rect x="399" y="597" width="3" height="4" fill="rgb(98,98,98)"/>
<rect x="772" y="749" width="4" height="4" fill="rgb(98,98,98)"/>
<rect x="404" y="556" width="3" height="3" fill="rgb(104,104,104)"/>
<rect x="763" y="663" width="3" height="2" fill="rgb(68,68,68)"/>
<rect x="513" y="606" width="3" height="2" fill="rgb(62,62,62)"/>
<path d="M389.6,548.5 L470,548.5 L462,600 L455,640 L440,700 L425,760 L410,852 L389.6,852 Z" fill="#4a4a4a" opacity="0.45" filter="url(#bl3)"/>
<rect x="404" y="583" width="3" height="101" fill="rgb(60,60,60)" opacity="0.45"/>
<rect x="412" y="578" width="4" height="112" fill="rgb(66,66,66)" opacity="0.45"/>
<rect x="419" y="575" width="3" height="128" fill="rgb(58,58,58)" opacity="0.45"/>
<rect x="428" y="590" width="5" height="135" fill="rgb(64,64,64)" opacity="0.45"/>
<rect x="436" y="577" width="3" height="131" fill="rgb(70,70,70)" opacity="0.45"/>
<rect x="445" y="576" width="4" height="115" fill="rgb(60,60,60)" opacity="0.45"/>
<path d="M470,560 L520,556 L560,565 L540,585 L500,590 L470,600 Z" fill="#454545" opacity="0.6"/>
<rect x="706" y="625" width="4" height="5" fill="rgb(175,175,175)" opacity="0.8"/>
<rect x="704" y="577" width="6" height="2" fill="rgb(150,150,150)" opacity="0.8"/>
<rect x="692" y="643" width="4" height="3" fill="rgb(115,115,115)" opacity="0.8"/>
<rect x="769" y="593" width="3" height="4" fill="rgb(130,130,130)" opacity="0.8"/>
<rect x="744" y="662" width="2" height="4" fill="rgb(100,100,100)" opacity="0.8"/>
<rect x="702" y="624" width="4" height="4" fill="rgb(150,150,150)" opacity="0.8"/>
<rect x="785" y="613" width="3" height="3" fill="rgb(175,175,175)" opacity="0.8"/>
<rect x="718" y="613" width="3" height="3" fill="rgb(175,175,175)" opacity="0.8"/>
<rect x="741" y="631" width="2" height="3" fill="rgb(115,115,115)" opacity="0.8"/>
<rect x="734" y="608" width="3" height="4" fill="rgb(100,100,100)" opacity="0.8"/>
<rect x="696" y="608" width="5" height="4" fill="rgb(115,115,115)" opacity="0.8"/>
<rect x="772" y="614" width="5" height="2" fill="rgb(175,175,175)" opacity="0.8"/>
<rect x="759" y="656" width="6" height="4" fill="rgb(150,150,150)" opacity="0.8"/>
<rect x="765" y="658" width="5" height="4" fill="rgb(175,175,175)" opacity="0.8"/>
<rect x="779" y="618" width="5" height="2" fill="rgb(115,115,115)" opacity="0.8"/>
<rect x="767" y="611" width="2" height="4" fill="rgb(175,175,175)" opacity="0.8"/>
<rect x="776" y="593" width="3" height="5" fill="rgb(175,175,175)" opacity="0.8"/>
<rect x="727" y="607" width="6" height="3" fill="rgb(100,100,100)" opacity="0.8"/>
<rect x="750" y="555" width="2" height="4" fill="rgb(115,115,115)" opacity="0.8"/>
<rect x="783" y="593" width="4" height="4" fill="rgb(150,150,150)" opacity="0.8"/>
<rect x="741" y="567" width="4" height="4" fill="rgb(115,115,115)" opacity="0.8"/>
<rect x="777" y="622" width="3" height="3" fill="rgb(175,175,175)" opacity="0.8"/>
<rect x="764" y="618" width="3" height="3" fill="rgb(175,175,175)" opacity="0.8"/>
<rect x="749" y="654" width="6" height="2" fill="rgb(150,150,150)" opacity="0.8"/>
<rect x="691" y="555" width="5" height="2" fill="rgb(100,100,100)" opacity="0.8"/>
<rect x="693" y="597" width="6" height="5" fill="rgb(175,175,175)" opacity="0.8"/>
<rect x="754" y="575" width="2" height="2" fill="rgb(115,115,115)" opacity="0.8"/>
<rect x="694" y="632" width="6" height="2" fill="rgb(150,150,150)" opacity="0.8"/>
<rect x="790" y="628" width="2" height="5" fill="rgb(150,150,150)" opacity="0.8"/>
<rect x="769" y="580" width="4" height="2" fill="rgb(150,150,150)" opacity="0.8"/>
<rect x="782" y="587" width="5" height="5" fill="rgb(175,175,175)" opacity="0.8"/>
<rect x="706" y="575" width="4" height="3" fill="rgb(150,150,150)" opacity="0.8"/>
<rect x="738" y="567" width="5" height="5" fill="rgb(115,115,115)" opacity="0.8"/>
<rect x="755" y="625" width="3" height="3" fill="rgb(130,130,130)" opacity="0.8"/>
<rect x="786" y="570" width="5" height="4" fill="rgb(100,100,100)" opacity="0.8"/>
<rect x="786" y="567" width="6" height="5" fill="rgb(150,150,150)" opacity="0.8"/>
<rect x="743" y="659" width="6" height="3" fill="rgb(130,130,130)" opacity="0.8"/>
<rect x="760" y="598" width="4" height="4" fill="rgb(150,150,150)" opacity="0.8"/>
<rect x="755" y="573" width="4" height="4" fill="rgb(175,175,175)" opacity="0.8"/>
<rect x="741" y="632" width="2" height="2" fill="rgb(115,115,115)" opacity="0.8"/>
<rect x="725" y="562" width="6" height="3" fill="rgb(150,150,150)" opacity="0.8"/>
<rect x="695" y="662" width="3" height="4" fill="rgb(175,175,175)" opacity="0.8"/>
<rect x="766" y="580" width="4" height="2" fill="rgb(175,175,175)" opacity="0.8"/>
<rect x="723" y="584" width="5" height="5" fill="rgb(150,150,150)" opacity="0.8"/>
<rect x="697" y="585" width="2" height="2" fill="rgb(130,130,130)" opacity="0.8"/>
<rect x="773" y="653" width="5" height="2" fill="rgb(100,100,100)" opacity="0.8"/>
<rect x="738" y="558" width="2" height="4" fill="rgb(175,175,175)" opacity="0.8"/>
<rect x="758" y="628" width="4" height="2" fill="rgb(150,150,150)" opacity="0.8"/>
<rect x="739" y="562" width="2" height="2" fill="rgb(130,130,130)" opacity="0.8"/>
<rect x="699" y="664" width="5" height="5" fill="rgb(100,100,100)" opacity="0.8"/>
<rect x="702" y="585" width="5" height="2" fill="rgb(175,175,175)" opacity="0.8"/>
<rect x="712" y="609" width="5" height="3" fill="rgb(130,130,130)" opacity="0.8"/>
<rect x="786" y="587" width="2" height="3" fill="rgb(100,100,100)" opacity="0.8"/>
<rect x="722" y="648" width="4" height="5" fill="rgb(175,175,175)" opacity="0.8"/>
<rect x="748" y="642" width="4" height="4" fill="rgb(100,100,100)" opacity="0.8"/>
<rect x="707" y="622" width="5" height="5" fill="rgb(175,175,175)" opacity="0.8"/>
<rect x="770" y="620" width="6" height="3" fill="rgb(130,130,130)" opacity="0.8"/>
<rect x="738" y="659" width="5" height="3" fill="rgb(115,115,115)" opacity="0.8"/>
<rect x="704" y="569" width="5" height="4" fill="rgb(115,115,115)" opacity="0.8"/>
<rect x="755" y="649" width="5" height="2" fill="rgb(130,130,130)" opacity="0.8"/>
<rect x="721" y="652" width="2" height="2" fill="rgb(150,150,150)" opacity="0.8"/>
<rect x="712" y="553" width="6" height="5" fill="rgb(100,100,100)" opacity="0.8"/>
<rect x="757" y="606" width="6" height="4" fill="rgb(100,100,100)" opacity="0.8"/>
<rect x="754" y="557" width="3" height="5" fill="rgb(150,150,150)" opacity="0.8"/>
<rect x="721" y="593" width="4" height="3" fill="rgb(130,130,130)" opacity="0.8"/>
<rect x="769" y="634" width="5" height="3" fill="rgb(115,115,115)" opacity="0.8"/>
<rect x="723" y="648" width="5" height="5" fill="rgb(150,150,150)" opacity="0.8"/>
<rect x="726" y="634" width="4" height="2" fill="rgb(100,100,100)" opacity="0.8"/>
<rect x="707" y="607" width="6" height="5" fill="rgb(115,115,115)" opacity="0.8"/>
<rect x="771" y="646" width="3" height="2" fill="rgb(115,115,115)" opacity="0.8"/>
<rect x="740" y="564" width="3" height="3" fill="rgb(130,130,130)" opacity="0.8"/>
<rect x="780" y="577" width="2" height="5" fill="rgb(175,175,175)" opacity="0.8"/>
<rect x="734" y="649" width="2" height="3" fill="rgb(150,150,150)" opacity="0.8"/>
<rect x="759" y="617" width="4" height="5" fill="rgb(100,100,100)" opacity="0.8"/>
<rect x="751" y="576" width="4" height="5" fill="rgb(115,115,115)" opacity="0.8"/>
<rect x="772" y="634" width="6" height="2" fill="rgb(150,150,150)" opacity="0.8"/>
<rect x="705" y="557" width="3" height="3" fill="rgb(115,115,115)" opacity="0.8"/>
<rect x="701" y="603" width="5" height="5" fill="rgb(175,175,175)" opacity="0.8"/>
<rect x="720" y="559" width="6" height="5" fill="rgb(100,100,100)" opacity="0.8"/>
<rect x="778" y="621" width="3" height="2" fill="rgb(100,100,100)" opacity="0.8"/>
<rect x="758" y="601" width="3" height="2" fill="rgb(100,100,100)" opacity="0.8"/>
<rect x="763" y="573" width="4" height="2" fill="rgb(100,100,100)" opacity="0.8"/>
<rect x="708" y="595" width="5" height="2" fill="rgb(115,115,115)" opacity="0.8"/>
<rect x="722" y="634" width="5" height="3" fill="rgb(175,175,175)" opacity="0.8"/>
<rect x="771" y="563" width="3" height="3" fill="rgb(175,175,175)" opacity="0.8"/>
<rect x="704" y="654" width="5" height="2" fill="rgb(130,130,130)" opacity="0.8"/>
<rect x="719" y="610" width="4" height="2" fill="rgb(130,130,130)" opacity="0.8"/>
<rect x="781" y="655" width="6" height="5" fill="rgb(175,175,175)" opacity="0.8"/>
<rect x="767" y="573" width="4" height="2" fill="rgb(100,100,100)" opacity="0.8"/>
<rect x="710" y="611" width="4" height="2" fill="rgb(130,130,130)" opacity="0.8"/>
</g>
<circle cx="786" cy="562.6" r="3.5" fill="#e0e0e0"/>
<circle cx="726" cy="651.4" r="3" fill="#e0e0e0"/>
<circle cx="732.5" cy="606" r="3" fill="#e0e0e0"/>
<circle cx="703" cy="638" r="2.5" fill="#e0e0e0"/>
<defs><clipPath id="cdisk"><path d="M437.8,694.0 L441.7,655.6 L457.0,636.0 L480.0,622.8 L507.0,603.6 L526.4,586.0 L541.8,578.5 L565.0,574.7 L588.0,578.5 L611.0,588.0 L630.5,594.0 L646.0,597.8 L649.7,609.4 L672.9,617.0 L688.0,622.8 L703.7,632.5 L719.0,648.0 L730.7,671.0 L736.5,698.0 L738.4,725.0 L744.0,755.8 L744.0,798.0 L726.8,809.7 L696.0,825.0 L657.5,836.7 L619.0,840.6 L580.4,840.6 L557.0,836.7 L534.0,825.0 L503.0,809.7 L476.3,786.6 L457.0,763.5 L443.6,732.7 Z"/></clipPath></defs>
<path d="M457.0,763.5 L443.6,732.7 L437.8,694.0 L441.7,655.6 L457.0,636.0 L480.0,622.8 L507.0,603.6 L526.4,586.0 L541.8,578.5 L565.0,574.7 L588.0,578.5 L611.0,588.0 L630.5,594.0 L646.0,597.8" fill="none" stroke="#2c2c2c" stroke-width="12" stroke-linejoin="round" stroke-linecap="round" filter="url(#bl2)"/>
<path d="M437.8,694.0 L441.7,655.6 L457.0,636.0 L480.0,622.8 L507.0,603.6 L526.4,586.0 L541.8,578.5 L565.0,574.7 L588.0,578.5 L611.0,588.0 L630.5,594.0 L646.0,597.8 L649.7,609.4 L672.9,617.0 L688.0,622.8 L703.7,632.5 L719.0,648.0 L730.7,671.0 L736.5,698.0 L738.4,725.0 L744.0,755.8 L744.0,798.0 L726.8,809.7 L696.0,825.0 L657.5,836.7 L619.0,840.6 L580.4,840.6 L557.0,836.7 L534.0,825.0 L503.0,809.7 L476.3,786.6 L457.0,763.5 L443.6,732.7 Z" fill="#656565" stroke="#c4c4c4" stroke-width="2"/>
<path d="M457.0,763.5 L476.3,786.6 L503.0,809.7 L534.0,825.0 L557.0,836.7 L580.4,840.6 L619.0,840.6 L657.5,836.7 L696.0,825.0 L726.8,809.7 L744.0,798.0 L744.0,755.8" fill="none" stroke="#e8e8e8" stroke-width="2.2"/>
<g clip-path="url(#cdisk)"><g filter="url(#bl0)">
<circle cx="431.4" cy="568.6" r="6.0" fill="#b4b4b4"/>
<circle cx="431.1" cy="568.2" r="5.0" fill="#c8c8c8"/>
<circle cx="431.8" cy="569.0" r="3.7" fill="#1e1e1e"/>
<circle cx="452.2" cy="574.5" r="6.0" fill="#b4b4b4"/>
<circle cx="451.9" cy="574.1" r="5.0" fill="#c8c8c8"/>
<circle cx="452.5" cy="574.9" r="3.7" fill="#1e1e1e"/>
<circle cx="446.6" cy="595.9" r="6.0" fill="#b4b4b4"/>
<circle cx="446.3" cy="595.5" r="5.0" fill="#c8c8c8"/>
<circle cx="446.9" cy="596.2" r="3.7" fill="#1e1e1e"/>
<circle cx="441.1" cy="617.2" r="6.0" fill="#b4b4b4"/>
<circle cx="440.8" cy="616.9" r="5.0" fill="#c8c8c8"/>
<circle cx="441.4" cy="617.6" r="3.7" fill="#1e1e1e"/>
<circle cx="435.5" cy="638.6" r="6.0" fill="#b4b4b4"/>
<circle cx="435.2" cy="638.2" r="5.0" fill="#c8c8c8"/>
<circle cx="435.8" cy="639.0" r="3.7" fill="#1e1e1e"/>
<circle cx="430.0" cy="660.0" r="6.0" fill="#b4b4b4"/>
<circle cx="429.7" cy="659.6" r="5.0" fill="#c8c8c8"/>
<circle cx="430.3" cy="660.4" r="3.7" fill="#1e1e1e"/>
<circle cx="472.9" cy="580.3" r="6.0" fill="#b4b4b4"/>
<circle cx="472.6" cy="579.9" r="5.0" fill="#c8c8c8"/>
<circle cx="473.2" cy="580.7" r="3.7" fill="#1e1e1e"/>
<circle cx="467.4" cy="601.7" r="6.0" fill="#b4b4b4"/>
<circle cx="467.1" cy="601.3" r="5.0" fill="#c8c8c8"/>
<circle cx="467.7" cy="602.1" r="3.7" fill="#1e1e1e"/>
<circle cx="461.8" cy="623.1" r="6.0" fill="#b4b4b4"/>
<circle cx="461.5" cy="622.7" r="5.0" fill="#c8c8c8"/>
<circle cx="462.1" cy="623.5" r="3.7" fill="#1e1e1e"/>
<circle cx="456.3" cy="644.5" r="6.0" fill="#b4b4b4"/>
<circle cx="456.0" cy="644.1" r="5.0" fill="#c8c8c8"/>
<circle cx="456.6" cy="644.9" r="3.7" fill="#1e1e1e"/>
<circle cx="450.8" cy="665.9" r="6.0" fill="#b4b4b4"/>
<circle cx="450.4" cy="665.5" r="5.0" fill="#c8c8c8"/>
<circle cx="451.1" cy="666.3" r="3.7" fill="#1e1e1e"/>
<circle cx="445.2" cy="687.3" r="6.0" fill="#b4b4b4"/>
<circle cx="444.9" cy="686.9" r="5.0" fill="#c8c8c8"/>
<circle cx="445.5" cy="687.7" r="3.7" fill="#1e1e1e"/>
<circle cx="439.6" cy="708.7" r="6.0" fill="#b4b4b4"/>
<circle cx="439.3" cy="708.3" r="5.0" fill="#c8c8c8"/>
<circle cx="439.9" cy="709.1" r="3.7" fill="#1e1e1e"/>
<circle cx="434.1" cy="730.1" r="6.0" fill="#b4b4b4"/>
<circle cx="433.8" cy="729.7" r="5.0" fill="#c8c8c8"/>
<circle cx="434.4" cy="730.5" r="3.7" fill="#1e1e1e"/>
<circle cx="493.7" cy="586.1" r="6.0" fill="#b4b4b4"/>
<circle cx="493.4" cy="585.8" r="5.0" fill="#c8c8c8"/>
<circle cx="494.0" cy="586.5" r="3.7" fill="#1e1e1e"/>
<circle cx="488.1" cy="607.5" r="6.0" fill="#b4b4b4"/>
<circle cx="487.8" cy="607.1" r="5.0" fill="#c8c8c8"/>
<circle cx="488.4" cy="607.9" r="3.7" fill="#1e1e1e"/>
<circle cx="482.6" cy="628.9" r="6.0" fill="#b4b4b4"/>
<circle cx="482.3" cy="628.5" r="5.0" fill="#c8c8c8"/>
<circle cx="482.9" cy="629.3" r="3.7" fill="#1e1e1e"/>
<circle cx="477.0" cy="650.3" r="6.0" fill="#b4b4b4"/>
<circle cx="476.7" cy="649.9" r="5.0" fill="#c8c8c8"/>
<circle cx="477.3" cy="650.7" r="3.7" fill="#1e1e1e"/>
<circle cx="471.5" cy="671.8" r="6.0" fill="#b4b4b4"/>
<circle cx="471.2" cy="671.4" r="5.0" fill="#c8c8c8"/>
<circle cx="471.8" cy="672.1" r="3.7" fill="#1e1e1e"/>
<circle cx="465.9" cy="693.1" r="6.0" fill="#b4b4b4"/>
<circle cx="465.6" cy="692.8" r="5.0" fill="#c8c8c8"/>
<circle cx="466.2" cy="693.5" r="3.7" fill="#1e1e1e"/>
<circle cx="460.4" cy="714.5" r="6.0" fill="#b4b4b4"/>
<circle cx="460.1" cy="714.1" r="5.0" fill="#c8c8c8"/>
<circle cx="460.7" cy="714.9" r="3.7" fill="#1e1e1e"/>
<circle cx="454.8" cy="735.9" r="6.0" fill="#b4b4b4"/>
<circle cx="454.5" cy="735.5" r="5.0" fill="#c8c8c8"/>
<circle cx="455.1" cy="736.3" r="3.7" fill="#1e1e1e"/>
<circle cx="449.3" cy="757.3" r="6.0" fill="#b4b4b4"/>
<circle cx="449.0" cy="756.9" r="5.0" fill="#c8c8c8"/>
<circle cx="449.6" cy="757.7" r="3.7" fill="#1e1e1e"/>
<circle cx="443.8" cy="778.8" r="6.0" fill="#b4b4b4"/>
<circle cx="443.4" cy="778.4" r="5.0" fill="#c8c8c8"/>
<circle cx="444.1" cy="779.1" r="3.7" fill="#1e1e1e"/>
<circle cx="438.2" cy="800.1" r="6.0" fill="#b4b4b4"/>
<circle cx="437.9" cy="799.8" r="5.0" fill="#c8c8c8"/>
<circle cx="438.5" cy="800.5" r="3.7" fill="#1e1e1e"/>
<circle cx="432.6" cy="821.5" r="6.0" fill="#b4b4b4"/>
<circle cx="432.3" cy="821.1" r="5.0" fill="#c8c8c8"/>
<circle cx="432.9" cy="821.9" r="3.7" fill="#1e1e1e"/>
<circle cx="520.0" cy="570.6" r="6.0" fill="#b4b4b4"/>
<circle cx="519.7" cy="570.2" r="5.0" fill="#c8c8c8"/>
<circle cx="520.3" cy="571.0" r="3.7" fill="#1e1e1e"/>
<circle cx="514.4" cy="592.0" r="6.0" fill="#b4b4b4"/>
<circle cx="514.1" cy="591.6" r="5.0" fill="#c8c8c8"/>
<circle cx="514.7" cy="592.4" r="3.7" fill="#1e1e1e"/>
<circle cx="508.9" cy="613.4" r="6.0" fill="#b4b4b4"/>
<circle cx="508.6" cy="613.0" r="5.0" fill="#c8c8c8"/>
<circle cx="509.2" cy="613.8" r="3.7" fill="#1e1e1e"/>
<circle cx="503.3" cy="634.8" r="6.0" fill="#b4b4b4"/>
<circle cx="503.0" cy="634.4" r="5.0" fill="#c8c8c8"/>
<circle cx="503.6" cy="635.2" r="3.7" fill="#1e1e1e"/>
<circle cx="497.8" cy="656.2" r="6.0" fill="#b4b4b4"/>
<circle cx="497.5" cy="655.8" r="5.0" fill="#c8c8c8"/>
<circle cx="498.1" cy="656.6" r="3.7" fill="#1e1e1e"/>
<circle cx="492.2" cy="677.6" r="6.0" fill="#b4b4b4"/>
<circle cx="491.9" cy="677.2" r="5.0" fill="#c8c8c8"/>
<circle cx="492.6" cy="678.0" r="3.7" fill="#1e1e1e"/>
<circle cx="486.7" cy="699.0" r="6.0" fill="#b4b4b4"/>
<circle cx="486.4" cy="698.6" r="5.0" fill="#c8c8c8"/>
<circle cx="487.0" cy="699.4" r="3.7" fill="#1e1e1e"/>
<circle cx="481.1" cy="720.4" r="6.0" fill="#b4b4b4"/>
<circle cx="480.8" cy="720.0" r="5.0" fill="#c8c8c8"/>
<circle cx="481.4" cy="720.8" r="3.7" fill="#1e1e1e"/>
<circle cx="475.6" cy="741.8" r="6.0" fill="#b4b4b4"/>
<circle cx="475.3" cy="741.4" r="5.0" fill="#c8c8c8"/>
<circle cx="475.9" cy="742.2" r="3.7" fill="#1e1e1e"/>
<circle cx="470.0" cy="763.2" r="6.0" fill="#b4b4b4"/>
<circle cx="469.7" cy="762.8" r="5.0" fill="#c8c8c8"/>
<circle cx="470.3" cy="763.6" r="3.7" fill="#1e1e1e"/>
<circle cx="464.5" cy="784.6" r="6.0" fill="#b4b4b4"/>
<circle cx="464.2" cy="784.2" r="5.0" fill="#c8c8c8"/>
<circle cx="464.8" cy="785.0" r="3.7" fill="#1e1e1e"/>
<circle cx="458.9" cy="806.0" r="6.0" fill="#b4b4b4"/>
<circle cx="458.6" cy="805.6" r="5.0" fill="#c8c8c8"/>
<circle cx="459.2" cy="806.4" r="3.7" fill="#1e1e1e"/>
<circle cx="453.4" cy="827.4" r="6.0" fill="#b4b4b4"/>
<circle cx="453.1" cy="827.0" r="5.0" fill="#c8c8c8"/>
<circle cx="453.7" cy="827.8" r="3.7" fill="#1e1e1e"/>
<circle cx="447.8" cy="848.8" r="6.0" fill="#b4b4b4"/>
<circle cx="447.5" cy="848.4" r="5.0" fill="#c8c8c8"/>
<circle cx="448.1" cy="849.2" r="3.7" fill="#1e1e1e"/>
<circle cx="540.8" cy="576.5" r="6.0" fill="#b4b4b4"/>
<circle cx="540.5" cy="576.1" r="5.0" fill="#c8c8c8"/>
<circle cx="541.0" cy="576.9" r="3.7" fill="#1e1e1e"/>
<circle cx="535.2" cy="597.9" r="6.0" fill="#b4b4b4"/>
<circle cx="534.9" cy="597.5" r="5.0" fill="#c8c8c8"/>
<circle cx="535.5" cy="598.2" r="3.7" fill="#1e1e1e"/>
<circle cx="529.6" cy="619.2" r="6.0" fill="#b4b4b4"/>
<circle cx="529.4" cy="618.9" r="5.0" fill="#c8c8c8"/>
<circle cx="529.9" cy="619.6" r="3.7" fill="#1e1e1e"/>
<circle cx="524.1" cy="640.6" r="6.0" fill="#b4b4b4"/>
<circle cx="523.8" cy="640.2" r="5.0" fill="#c8c8c8"/>
<circle cx="524.4" cy="641.0" r="3.7" fill="#1e1e1e"/>
<circle cx="518.5" cy="662.0" r="6.0" fill="#a0a0a0"/>
<circle cx="518.0" cy="661.5" r="4.0" fill="#bcbcbc"/>
<circle cx="513.0" cy="683.5" r="6.0" fill="#b4b4b4"/>
<circle cx="512.7" cy="683.1" r="5.0" fill="#c8c8c8"/>
<circle cx="513.3" cy="683.9" r="3.7" fill="#1e1e1e"/>
<circle cx="507.4" cy="704.9" r="6.0" fill="#b4b4b4"/>
<circle cx="507.1" cy="704.5" r="5.0" fill="#c8c8c8"/>
<circle cx="507.8" cy="705.2" r="3.7" fill="#1e1e1e"/>
<circle cx="501.9" cy="726.2" r="6.0" fill="#b4b4b4"/>
<circle cx="501.6" cy="725.9" r="5.0" fill="#c8c8c8"/>
<circle cx="502.2" cy="726.6" r="3.7" fill="#1e1e1e"/>
<circle cx="496.3" cy="747.6" r="6.0" fill="#b4b4b4"/>
<circle cx="496.0" cy="747.2" r="5.0" fill="#c8c8c8"/>
<circle cx="496.6" cy="748.0" r="3.7" fill="#1e1e1e"/>
<circle cx="490.8" cy="769.0" r="6.0" fill="#b4b4b4"/>
<circle cx="490.5" cy="768.6" r="5.0" fill="#c8c8c8"/>
<circle cx="491.1" cy="769.4" r="3.7" fill="#1e1e1e"/>
<circle cx="485.2" cy="790.5" r="6.0" fill="#b4b4b4"/>
<circle cx="484.9" cy="790.1" r="5.0" fill="#c8c8c8"/>
<circle cx="485.6" cy="790.9" r="3.7" fill="#1e1e1e"/>
<circle cx="479.7" cy="811.9" r="6.0" fill="#b4b4b4"/>
<circle cx="479.4" cy="811.5" r="5.0" fill="#c8c8c8"/>
<circle cx="480.0" cy="812.2" r="3.7" fill="#1e1e1e"/>
<circle cx="474.1" cy="833.2" r="6.0" fill="#b4b4b4"/>
<circle cx="473.8" cy="832.9" r="5.0" fill="#c8c8c8"/>
<circle cx="474.4" cy="833.6" r="3.7" fill="#1e1e1e"/>
<circle cx="561.5" cy="582.3" r="6.0" fill="#b4b4b4"/>
<circle cx="561.2" cy="581.9" r="5.0" fill="#c8c8c8"/>
<circle cx="561.8" cy="582.7" r="3.7" fill="#1e1e1e"/>
<circle cx="555.9" cy="603.7" r="6.0" fill="#b4b4b4"/>
<circle cx="555.6" cy="603.3" r="5.0" fill="#c8c8c8"/>
<circle cx="556.2" cy="604.1" r="3.7" fill="#1e1e1e"/>
<circle cx="550.4" cy="625.1" r="6.0" fill="#b4b4b4"/>
<circle cx="550.1" cy="624.7" r="5.0" fill="#c8c8c8"/>
<circle cx="550.7" cy="625.5" r="3.7" fill="#1e1e1e"/>
<circle cx="544.9" cy="646.5" r="6.0" fill="#a0a0a0"/>
<circle cx="544.4" cy="646.0" r="4.0" fill="#bcbcbc"/>
<circle cx="539.3" cy="667.9" r="6.0" fill="#b4b4b4"/>
<circle cx="539.0" cy="667.5" r="5.0" fill="#c8c8c8"/>
<circle cx="539.6" cy="668.3" r="3.7" fill="#1e1e1e"/>
<circle cx="533.8" cy="689.3" r="6.0" fill="#b4b4b4"/>
<circle cx="533.5" cy="688.9" r="5.0" fill="#c8c8c8"/>
<circle cx="534.0" cy="689.7" r="3.7" fill="#1e1e1e"/>
<circle cx="528.2" cy="710.7" r="6.0" fill="#b4b4b4"/>
<circle cx="527.9" cy="710.3" r="5.0" fill="#c8c8c8"/>
<circle cx="528.5" cy="711.1" r="3.7" fill="#1e1e1e"/>
<circle cx="522.6" cy="732.1" r="6.0" fill="#b4b4b4"/>
<circle cx="522.4" cy="731.7" r="5.0" fill="#c8c8c8"/>
<circle cx="522.9" cy="732.5" r="3.7" fill="#1e1e1e"/>
<circle cx="517.1" cy="753.5" r="6.0" fill="#b4b4b4"/>
<circle cx="516.8" cy="753.1" r="5.0" fill="#c8c8c8"/>
<circle cx="517.4" cy="753.9" r="3.7" fill="#1e1e1e"/>
<circle cx="511.5" cy="774.9" r="6.0" fill="#b4b4b4"/>
<circle cx="511.2" cy="774.5" r="5.0" fill="#c8c8c8"/>
<circle cx="511.8" cy="775.3" r="3.7" fill="#1e1e1e"/>
<circle cx="506.0" cy="796.3" r="6.0" fill="#b4b4b4"/>
<circle cx="505.7" cy="795.9" r="5.0" fill="#c8c8c8"/>
<circle cx="506.3" cy="796.7" r="3.7" fill="#1e1e1e"/>
<circle cx="500.4" cy="817.7" r="6.0" fill="#b4b4b4"/>
<circle cx="500.1" cy="817.3" r="5.0" fill="#c8c8c8"/>
<circle cx="500.8" cy="818.1" r="3.7" fill="#1e1e1e"/>
<circle cx="494.9" cy="839.1" r="6.0" fill="#b4b4b4"/>
<circle cx="494.6" cy="838.7" r="5.0" fill="#c8c8c8"/>
<circle cx="495.2" cy="839.5" r="3.7" fill="#1e1e1e"/>
<circle cx="587.8" cy="566.8" r="6.0" fill="#b4b4b4"/>
<circle cx="587.5" cy="566.4" r="5.0" fill="#c8c8c8"/>
<circle cx="588.1" cy="567.1" r="3.7" fill="#1e1e1e"/>
<circle cx="582.2" cy="588.1" r="6.0" fill="#b4b4b4"/>
<circle cx="582.0" cy="587.8" r="5.0" fill="#c8c8c8"/>
<circle cx="582.5" cy="588.5" r="3.7" fill="#1e1e1e"/>
<circle cx="576.7" cy="609.5" r="6.0" fill="#b4b4b4"/>
<circle cx="576.4" cy="609.1" r="5.0" fill="#c8c8c8"/>
<circle cx="577.0" cy="609.9" r="3.7" fill="#1e1e1e"/>
<circle cx="571.1" cy="630.9" r="6.0" fill="#b4b4b4"/>
<circle cx="570.9" cy="630.5" r="5.0" fill="#c8c8c8"/>
<circle cx="571.4" cy="631.3" r="3.7" fill="#1e1e1e"/>
<circle cx="565.6" cy="652.3" r="6.0" fill="#b4b4b4"/>
<circle cx="565.3" cy="651.9" r="5.0" fill="#c8c8c8"/>
<circle cx="565.9" cy="652.7" r="3.7" fill="#1e1e1e"/>
<circle cx="560.0" cy="673.7" r="6.0" fill="#b4b4b4"/>
<circle cx="559.8" cy="673.3" r="5.0" fill="#c8c8c8"/>
<circle cx="560.3" cy="674.1" r="3.7" fill="#1e1e1e"/>
<circle cx="554.5" cy="695.1" r="6.0" fill="#b4b4b4"/>
<circle cx="554.2" cy="694.7" r="5.0" fill="#c8c8c8"/>
<circle cx="554.8" cy="695.5" r="3.7" fill="#1e1e1e"/>
<circle cx="548.9" cy="716.5" r="6.0" fill="#b4b4b4"/>
<circle cx="548.6" cy="716.1" r="5.0" fill="#c8c8c8"/>
<circle cx="549.2" cy="716.9" r="3.7" fill="#1e1e1e"/>
<circle cx="543.4" cy="737.9" r="6.0" fill="#b4b4b4"/>
<circle cx="543.1" cy="737.5" r="5.0" fill="#c8c8c8"/>
<circle cx="543.7" cy="738.3" r="3.7" fill="#1e1e1e"/>
<circle cx="537.9" cy="759.3" r="6.0" fill="#b4b4b4"/>
<circle cx="537.6" cy="758.9" r="5.0" fill="#c8c8c8"/>
<circle cx="538.1" cy="759.7" r="3.7" fill="#1e1e1e"/>
<circle cx="532.3" cy="780.7" r="6.0" fill="#b4b4b4"/>
<circle cx="532.0" cy="780.3" r="5.0" fill="#c8c8c8"/>
<circle cx="532.6" cy="781.1" r="3.7" fill="#1e1e1e"/>
<circle cx="526.8" cy="802.1" r="6.0" fill="#b4b4b4"/>
<circle cx="526.5" cy="801.7" r="5.0" fill="#c8c8c8"/>
<circle cx="527.0" cy="802.5" r="3.7" fill="#1e1e1e"/>
<circle cx="521.2" cy="823.5" r="6.0" fill="#b4b4b4"/>
<circle cx="520.9" cy="823.1" r="5.0" fill="#c8c8c8"/>
<circle cx="521.5" cy="823.9" r="3.7" fill="#1e1e1e"/>
<circle cx="515.6" cy="844.9" r="6.0" fill="#b4b4b4"/>
<circle cx="515.4" cy="844.5" r="5.0" fill="#c8c8c8"/>
<circle cx="515.9" cy="845.3" r="3.7" fill="#1e1e1e"/>
<circle cx="608.5" cy="572.6" r="6.0" fill="#b4b4b4"/>
<circle cx="608.2" cy="572.2" r="5.0" fill="#c8c8c8"/>
<circle cx="608.8" cy="573.0" r="3.7" fill="#1e1e1e"/>
<circle cx="603.0" cy="594.0" r="6.0" fill="#b4b4b4"/>
<circle cx="602.7" cy="593.6" r="5.0" fill="#c8c8c8"/>
<circle cx="603.3" cy="594.4" r="3.7" fill="#1e1e1e"/>
<circle cx="597.4" cy="615.4" r="6.0" fill="#b4b4b4"/>
<circle cx="597.1" cy="615.0" r="5.0" fill="#c8c8c8"/>
<circle cx="597.7" cy="615.8" r="3.7" fill="#1e1e1e"/>
<circle cx="591.9" cy="636.8" r="6.0" fill="#b4b4b4"/>
<circle cx="591.6" cy="636.4" r="5.0" fill="#c8c8c8"/>
<circle cx="592.2" cy="637.2" r="3.7" fill="#1e1e1e"/>
<circle cx="586.4" cy="658.2" r="6.0" fill="#b4b4b4"/>
<circle cx="586.1" cy="657.8" r="5.0" fill="#c8c8c8"/>
<circle cx="586.6" cy="658.6" r="3.7" fill="#1e1e1e"/>
<circle cx="580.8" cy="679.6" r="6.0" fill="#a0a0a0"/>
<circle cx="580.3" cy="679.1" r="4.0" fill="#bcbcbc"/>
<circle cx="575.2" cy="701.0" r="6.0" fill="#b4b4b4"/>
<circle cx="575.0" cy="700.6" r="5.0" fill="#c8c8c8"/>
<circle cx="575.5" cy="701.4" r="3.7" fill="#1e1e1e"/>
<circle cx="569.7" cy="722.4" r="6.0" fill="#b4b4b4"/>
<circle cx="569.4" cy="722.0" r="5.0" fill="#c8c8c8"/>
<circle cx="570.0" cy="722.8" r="3.7" fill="#1e1e1e"/>
<circle cx="564.1" cy="743.8" r="6.0" fill="#b4b4b4"/>
<circle cx="563.9" cy="743.4" r="5.0" fill="#c8c8c8"/>
<circle cx="564.4" cy="744.2" r="3.7" fill="#1e1e1e"/>
<circle cx="558.6" cy="765.2" r="6.0" fill="#b4b4b4"/>
<circle cx="558.3" cy="764.8" r="5.0" fill="#c8c8c8"/>
<circle cx="558.9" cy="765.6" r="3.7" fill="#1e1e1e"/>
<circle cx="553.0" cy="786.6" r="6.0" fill="#b4b4b4"/>
<circle cx="552.8" cy="786.2" r="5.0" fill="#c8c8c8"/>
<circle cx="553.3" cy="787.0" r="3.7" fill="#1e1e1e"/>
<circle cx="547.5" cy="808.0" r="6.0" fill="#b4b4b4"/>
<circle cx="547.2" cy="807.6" r="5.0" fill="#c8c8c8"/>
<circle cx="547.8" cy="808.4" r="3.7" fill="#1e1e1e"/>
<circle cx="541.9" cy="829.4" r="6.0" fill="#b4b4b4"/>
<circle cx="541.6" cy="829.0" r="5.0" fill="#c8c8c8"/>
<circle cx="542.2" cy="829.8" r="3.7" fill="#1e1e1e"/>
<circle cx="629.3" cy="578.5" r="6.0" fill="#b4b4b4"/>
<circle cx="629.0" cy="578.1" r="5.0" fill="#c8c8c8"/>
<circle cx="629.6" cy="578.9" r="3.7" fill="#1e1e1e"/>
<circle cx="623.8" cy="599.9" r="6.0" fill="#b4b4b4"/>
<circle cx="623.5" cy="599.5" r="5.0" fill="#c8c8c8"/>
<circle cx="624.0" cy="600.2" r="3.7" fill="#1e1e1e"/>
<circle cx="618.2" cy="621.2" r="6.0" fill="#b4b4b4"/>
<circle cx="617.9" cy="620.9" r="5.0" fill="#c8c8c8"/>
<circle cx="618.5" cy="621.6" r="3.7" fill="#1e1e1e"/>
<circle cx="612.6" cy="642.6" r="6.0" fill="#b4b4b4"/>
<circle cx="612.4" cy="642.2" r="5.0" fill="#c8c8c8"/>
<circle cx="612.9" cy="643.0" r="3.7" fill="#1e1e1e"/>
<circle cx="607.1" cy="664.0" r="6.0" fill="#b4b4b4"/>
<circle cx="606.8" cy="663.6" r="5.0" fill="#c8c8c8"/>
<circle cx="607.4" cy="664.4" r="3.7" fill="#1e1e1e"/>
<circle cx="601.5" cy="685.4" r="6.0" fill="#b4b4b4"/>
<circle cx="601.2" cy="685.0" r="5.0" fill="#c8c8c8"/>
<circle cx="601.8" cy="685.8" r="3.7" fill="#1e1e1e"/>
<circle cx="596.0" cy="706.8" r="6.0" fill="#b4b4b4"/>
<circle cx="595.7" cy="706.4" r="5.0" fill="#c8c8c8"/>
<circle cx="596.3" cy="707.2" r="3.7" fill="#1e1e1e"/>
<circle cx="590.4" cy="728.2" r="6.0" fill="#b4b4b4"/>
<circle cx="590.1" cy="727.9" r="5.0" fill="#c8c8c8"/>
<circle cx="590.7" cy="728.6" r="3.7" fill="#1e1e1e"/>
<circle cx="584.9" cy="749.6" r="6.0" fill="#b4b4b4"/>
<circle cx="584.6" cy="749.2" r="5.0" fill="#c8c8c8"/>
<circle cx="585.2" cy="750.0" r="3.7" fill="#1e1e1e"/>
<circle cx="579.4" cy="771.0" r="6.0" fill="#b4b4b4"/>
<circle cx="579.1" cy="770.6" r="5.0" fill="#c8c8c8"/>
<circle cx="579.6" cy="771.4" r="3.7" fill="#1e1e1e"/>
<circle cx="573.8" cy="792.4" r="6.0" fill="#b4b4b4"/>
<circle cx="573.5" cy="792.0" r="5.0" fill="#c8c8c8"/>
<circle cx="574.1" cy="792.8" r="3.7" fill="#1e1e1e"/>
<circle cx="568.2" cy="813.8" r="6.0" fill="#b4b4b4"/>
<circle cx="568.0" cy="813.4" r="5.0" fill="#c8c8c8"/>
<circle cx="568.5" cy="814.2" r="3.7" fill="#1e1e1e"/>
<circle cx="562.7" cy="835.2" r="6.0" fill="#b4b4b4"/>
<circle cx="562.4" cy="834.9" r="5.0" fill="#c8c8c8"/>
<circle cx="563.0" cy="835.6" r="3.7" fill="#1e1e1e"/>
<circle cx="650.0" cy="584.3" r="6.0" fill="#b4b4b4"/>
<circle cx="649.8" cy="583.9" r="5.0" fill="#c8c8c8"/>
<circle cx="650.3" cy="584.7" r="3.7" fill="#1e1e1e"/>
<circle cx="644.5" cy="605.7" r="6.0" fill="#b4b4b4"/>
<circle cx="644.2" cy="605.3" r="5.0" fill="#c8c8c8"/>
<circle cx="644.8" cy="606.1" r="3.7" fill="#1e1e1e"/>
<circle cx="638.9" cy="627.1" r="6.0" fill="#a0a0a0"/>
<circle cx="638.4" cy="626.6" r="4.0" fill="#bcbcbc"/>
<circle cx="633.4" cy="648.5" r="6.0" fill="#b4b4b4"/>
<circle cx="633.1" cy="648.1" r="5.0" fill="#c8c8c8"/>
<circle cx="633.7" cy="648.9" r="3.7" fill="#1e1e1e"/>
<circle cx="627.9" cy="669.9" r="6.0" fill="#b4b4b4"/>
<circle cx="627.6" cy="669.5" r="5.0" fill="#c8c8c8"/>
<circle cx="628.1" cy="670.3" r="3.7" fill="#1e1e1e"/>
<circle cx="622.3" cy="691.3" r="6.0" fill="#b4b4b4"/>
<circle cx="622.0" cy="690.9" r="5.0" fill="#c8c8c8"/>
<circle cx="622.6" cy="691.7" r="3.7" fill="#1e1e1e"/>
<circle cx="616.8" cy="712.7" r="6.0" fill="#b4b4b4"/>
<circle cx="616.5" cy="712.3" r="5.0" fill="#c8c8c8"/>
<circle cx="617.0" cy="713.1" r="3.7" fill="#1e1e1e"/>
<circle cx="611.2" cy="734.1" r="6.0" fill="#b4b4b4"/>
<circle cx="610.9" cy="733.7" r="5.0" fill="#c8c8c8"/>
<circle cx="611.5" cy="734.5" r="3.7" fill="#1e1e1e"/>
<circle cx="605.6" cy="755.5" r="6.0" fill="#a0a0a0"/>
<circle cx="605.1" cy="755.0" r="4.0" fill="#bcbcbc"/>
<circle cx="600.1" cy="776.9" r="6.0" fill="#a0a0a0"/>
<circle cx="599.6" cy="776.4" r="4.0" fill="#bcbcbc"/>
<circle cx="594.5" cy="798.3" r="6.0" fill="#a0a0a0"/>
<circle cx="594.0" cy="797.8" r="4.0" fill="#bcbcbc"/>
<circle cx="589.0" cy="819.7" r="6.0" fill="#b4b4b4"/>
<circle cx="588.7" cy="819.3" r="5.0" fill="#c8c8c8"/>
<circle cx="589.3" cy="820.1" r="3.7" fill="#1e1e1e"/>
<circle cx="583.4" cy="841.1" r="6.0" fill="#b4b4b4"/>
<circle cx="583.1" cy="840.7" r="5.0" fill="#c8c8c8"/>
<circle cx="583.7" cy="841.5" r="3.7" fill="#1e1e1e"/>
<circle cx="676.4" cy="568.8" r="6.0" fill="#b4b4b4"/>
<circle cx="676.1" cy="568.4" r="5.0" fill="#c8c8c8"/>
<circle cx="676.6" cy="569.1" r="3.7" fill="#1e1e1e"/>
<circle cx="670.8" cy="590.2" r="6.0" fill="#b4b4b4"/>
<circle cx="670.5" cy="589.8" r="5.0" fill="#c8c8c8"/>
<circle cx="671.1" cy="590.6" r="3.7" fill="#1e1e1e"/>
<circle cx="665.2" cy="611.6" r="6.0" fill="#b4b4b4"/>
<circle cx="665.0" cy="611.2" r="5.0" fill="#c8c8c8"/>
<circle cx="665.5" cy="612.0" r="3.7" fill="#1e1e1e"/>
<circle cx="659.7" cy="633.0" r="6.0" fill="#b4b4b4"/>
<circle cx="659.4" cy="632.6" r="5.0" fill="#c8c8c8"/>
<circle cx="660.0" cy="633.4" r="3.7" fill="#1e1e1e"/>
<circle cx="654.1" cy="654.4" r="6.0" fill="#b4b4b4"/>
<circle cx="653.9" cy="654.0" r="5.0" fill="#c8c8c8"/>
<circle cx="654.4" cy="654.8" r="3.7" fill="#1e1e1e"/>
<circle cx="648.6" cy="675.8" r="6.0" fill="#b4b4b4"/>
<circle cx="648.3" cy="675.4" r="5.0" fill="#c8c8c8"/>
<circle cx="648.9" cy="676.1" r="3.7" fill="#1e1e1e"/>
<circle cx="643.0" cy="697.1" r="6.0" fill="#b4b4b4"/>
<circle cx="642.8" cy="696.8" r="5.0" fill="#c8c8c8"/>
<circle cx="643.3" cy="697.5" r="3.7" fill="#1e1e1e"/>
<circle cx="637.5" cy="718.5" r="6.0" fill="#b4b4b4"/>
<circle cx="637.2" cy="718.1" r="5.0" fill="#c8c8c8"/>
<circle cx="637.8" cy="718.9" r="3.7" fill="#1e1e1e"/>
<circle cx="631.9" cy="740.0" r="6.0" fill="#b4b4b4"/>
<circle cx="631.6" cy="739.6" r="5.0" fill="#c8c8c8"/>
<circle cx="632.2" cy="740.4" r="3.7" fill="#1e1e1e"/>
<circle cx="626.4" cy="761.4" r="6.0" fill="#a0a0a0"/>
<circle cx="625.9" cy="760.9" r="4.0" fill="#bcbcbc"/>
<circle cx="620.9" cy="782.8" r="6.0" fill="#b4b4b4"/>
<circle cx="620.6" cy="782.4" r="5.0" fill="#c8c8c8"/>
<circle cx="621.1" cy="783.1" r="3.7" fill="#1e1e1e"/>
<circle cx="615.3" cy="804.1" r="6.0" fill="#b4b4b4"/>
<circle cx="615.0" cy="803.8" r="5.0" fill="#c8c8c8"/>
<circle cx="615.6" cy="804.5" r="3.7" fill="#1e1e1e"/>
<circle cx="609.8" cy="825.5" r="6.0" fill="#b4b4b4"/>
<circle cx="609.5" cy="825.1" r="5.0" fill="#c8c8c8"/>
<circle cx="610.0" cy="825.9" r="3.7" fill="#1e1e1e"/>
<circle cx="604.2" cy="847.0" r="6.0" fill="#b4b4b4"/>
<circle cx="603.9" cy="846.6" r="5.0" fill="#c8c8c8"/>
<circle cx="604.5" cy="847.4" r="3.7" fill="#1e1e1e"/>
<circle cx="697.1" cy="574.6" r="6.0" fill="#b4b4b4"/>
<circle cx="696.8" cy="574.2" r="5.0" fill="#c8c8c8"/>
<circle cx="697.4" cy="575.0" r="3.7" fill="#1e1e1e"/>
<circle cx="691.5" cy="596.0" r="6.0" fill="#b4b4b4"/>
<circle cx="691.2" cy="595.6" r="5.0" fill="#c8c8c8"/>
<circle cx="691.8" cy="596.4" r="3.7" fill="#1e1e1e"/>
<circle cx="686.0" cy="617.4" r="6.0" fill="#b4b4b4"/>
<circle cx="685.7" cy="617.0" r="5.0" fill="#c8c8c8"/>
<circle cx="686.3" cy="617.8" r="3.7" fill="#1e1e1e"/>
<circle cx="680.4" cy="638.8" r="6.0" fill="#b4b4b4"/>
<circle cx="680.1" cy="638.4" r="5.0" fill="#c8c8c8"/>
<circle cx="680.7" cy="639.2" r="3.7" fill="#1e1e1e"/>
<circle cx="674.9" cy="660.2" r="6.0" fill="#b4b4b4"/>
<circle cx="674.6" cy="659.8" r="5.0" fill="#c8c8c8"/>
<circle cx="675.2" cy="660.6" r="3.7" fill="#1e1e1e"/>
<circle cx="669.4" cy="681.6" r="6.0" fill="#b4b4b4"/>
<circle cx="669.1" cy="681.2" r="5.0" fill="#c8c8c8"/>
<circle cx="669.6" cy="682.0" r="3.7" fill="#1e1e1e"/>
<circle cx="663.8" cy="703.0" r="6.0" fill="#b4b4b4"/>
<circle cx="663.5" cy="702.6" r="5.0" fill="#c8c8c8"/>
<circle cx="664.1" cy="703.4" r="3.7" fill="#1e1e1e"/>
<circle cx="658.2" cy="724.4" r="6.0" fill="#b4b4b4"/>
<circle cx="658.0" cy="724.0" r="5.0" fill="#c8c8c8"/>
<circle cx="658.5" cy="724.8" r="3.7" fill="#1e1e1e"/>
<circle cx="652.7" cy="745.8" r="6.0" fill="#b4b4b4"/>
<circle cx="652.4" cy="745.4" r="5.0" fill="#c8c8c8"/>
<circle cx="653.0" cy="746.2" r="3.7" fill="#1e1e1e"/>
<circle cx="647.1" cy="767.2" r="6.0" fill="#b4b4b4"/>
<circle cx="646.9" cy="766.8" r="5.0" fill="#c8c8c8"/>
<circle cx="647.4" cy="767.6" r="3.7" fill="#1e1e1e"/>
<circle cx="641.6" cy="788.6" r="6.0" fill="#b4b4b4"/>
<circle cx="641.3" cy="788.2" r="5.0" fill="#c8c8c8"/>
<circle cx="641.9" cy="789.0" r="3.7" fill="#1e1e1e"/>
<circle cx="636.0" cy="810.0" r="6.0" fill="#b4b4b4"/>
<circle cx="635.8" cy="809.6" r="5.0" fill="#c8c8c8"/>
<circle cx="636.3" cy="810.4" r="3.7" fill="#1e1e1e"/>
<circle cx="630.5" cy="831.4" r="6.0" fill="#b4b4b4"/>
<circle cx="630.2" cy="831.0" r="5.0" fill="#c8c8c8"/>
<circle cx="630.8" cy="831.8" r="3.7" fill="#1e1e1e"/>
<circle cx="717.9" cy="580.4" r="6.0" fill="#b4b4b4"/>
<circle cx="717.6" cy="580.0" r="5.0" fill="#c8c8c8"/>
<circle cx="718.1" cy="580.8" r="3.7" fill="#1e1e1e"/>
<circle cx="712.3" cy="601.8" r="6.0" fill="#b4b4b4"/>
<circle cx="712.0" cy="601.4" r="5.0" fill="#c8c8c8"/>
<circle cx="712.6" cy="602.2" r="3.7" fill="#1e1e1e"/>
<circle cx="706.8" cy="623.2" r="6.0" fill="#b4b4b4"/>
<circle cx="706.5" cy="622.9" r="5.0" fill="#c8c8c8"/>
<circle cx="707.0" cy="623.6" r="3.7" fill="#1e1e1e"/>
<circle cx="701.2" cy="644.6" r="6.0" fill="#b4b4b4"/>
<circle cx="700.9" cy="644.2" r="5.0" fill="#c8c8c8"/>
<circle cx="701.5" cy="645.0" r="3.7" fill="#1e1e1e"/>
<circle cx="695.6" cy="666.0" r="6.0" fill="#b4b4b4"/>
<circle cx="695.4" cy="665.6" r="5.0" fill="#c8c8c8"/>
<circle cx="695.9" cy="666.4" r="3.7" fill="#1e1e1e"/>
<circle cx="690.1" cy="687.4" r="6.0" fill="#b4b4b4"/>
<circle cx="689.8" cy="687.0" r="5.0" fill="#c8c8c8"/>
<circle cx="690.4" cy="687.8" r="3.7" fill="#1e1e1e"/>
<circle cx="684.5" cy="708.8" r="6.0" fill="#b4b4b4"/>
<circle cx="684.2" cy="708.4" r="5.0" fill="#c8c8c8"/>
<circle cx="684.8" cy="709.2" r="3.7" fill="#1e1e1e"/>
<circle cx="679.0" cy="730.2" r="6.0" fill="#b4b4b4"/>
<circle cx="678.7" cy="729.9" r="5.0" fill="#c8c8c8"/>
<circle cx="679.3" cy="730.6" r="3.7" fill="#1e1e1e"/>
<circle cx="673.4" cy="751.6" r="6.0" fill="#b4b4b4"/>
<circle cx="673.1" cy="751.2" r="5.0" fill="#c8c8c8"/>
<circle cx="673.7" cy="752.0" r="3.7" fill="#1e1e1e"/>
<circle cx="667.9" cy="773.0" r="6.0" fill="#b4b4b4"/>
<circle cx="667.6" cy="772.6" r="5.0" fill="#c8c8c8"/>
<circle cx="668.2" cy="773.4" r="3.7" fill="#1e1e1e"/>
<circle cx="662.4" cy="794.4" r="6.0" fill="#b4b4b4"/>
<circle cx="662.1" cy="794.0" r="5.0" fill="#c8c8c8"/>
<circle cx="662.6" cy="794.8" r="3.7" fill="#1e1e1e"/>
<circle cx="656.8" cy="815.8" r="6.0" fill="#b4b4b4"/>
<circle cx="656.5" cy="815.4" r="5.0" fill="#c8c8c8"/>
<circle cx="657.1" cy="816.2" r="3.7" fill="#1e1e1e"/>
<circle cx="651.2" cy="837.2" r="6.0" fill="#b4b4b4"/>
<circle cx="651.0" cy="836.9" r="5.0" fill="#c8c8c8"/>
<circle cx="651.5" cy="837.6" r="3.7" fill="#1e1e1e"/>
<circle cx="738.6" cy="586.3" r="6.0" fill="#b4b4b4"/>
<circle cx="738.3" cy="585.9" r="5.0" fill="#c8c8c8"/>
<circle cx="738.9" cy="586.7" r="3.7" fill="#1e1e1e"/>
<circle cx="733.0" cy="607.7" r="6.0" fill="#b4b4b4"/>
<circle cx="732.8" cy="607.3" r="5.0" fill="#c8c8c8"/>
<circle cx="733.3" cy="608.1" r="3.7" fill="#1e1e1e"/>
<circle cx="727.5" cy="629.1" r="6.0" fill="#b4b4b4"/>
<circle cx="727.2" cy="628.7" r="5.0" fill="#c8c8c8"/>
<circle cx="727.8" cy="629.5" r="3.7" fill="#1e1e1e"/>
<circle cx="721.9" cy="650.5" r="6.0" fill="#b4b4b4"/>
<circle cx="721.6" cy="650.1" r="5.0" fill="#c8c8c8"/>
<circle cx="722.2" cy="650.9" r="3.7" fill="#1e1e1e"/>
<circle cx="716.4" cy="671.9" r="6.0" fill="#a0a0a0"/>
<circle cx="715.9" cy="671.4" r="4.0" fill="#bcbcbc"/>
<circle cx="710.9" cy="693.3" r="6.0" fill="#a0a0a0"/>
<circle cx="710.4" cy="692.8" r="4.0" fill="#bcbcbc"/>
<circle cx="705.3" cy="714.7" r="6.0" fill="#b4b4b4"/>
<circle cx="705.0" cy="714.3" r="5.0" fill="#c8c8c8"/>
<circle cx="705.6" cy="715.1" r="3.7" fill="#1e1e1e"/>
<circle cx="699.8" cy="736.1" r="6.0" fill="#b4b4b4"/>
<circle cx="699.5" cy="735.7" r="5.0" fill="#c8c8c8"/>
<circle cx="700.0" cy="736.5" r="3.7" fill="#1e1e1e"/>
<circle cx="694.2" cy="757.5" r="6.0" fill="#b4b4b4"/>
<circle cx="693.9" cy="757.1" r="5.0" fill="#c8c8c8"/>
<circle cx="694.5" cy="757.9" r="3.7" fill="#1e1e1e"/>
<circle cx="688.6" cy="778.9" r="6.0" fill="#b4b4b4"/>
<circle cx="688.4" cy="778.5" r="5.0" fill="#c8c8c8"/>
<circle cx="688.9" cy="779.3" r="3.7" fill="#1e1e1e"/>
<circle cx="683.1" cy="800.3" r="6.0" fill="#b4b4b4"/>
<circle cx="682.8" cy="799.9" r="5.0" fill="#c8c8c8"/>
<circle cx="683.4" cy="800.7" r="3.7" fill="#1e1e1e"/>
<circle cx="677.5" cy="821.7" r="6.0" fill="#b4b4b4"/>
<circle cx="677.2" cy="821.3" r="5.0" fill="#c8c8c8"/>
<circle cx="677.8" cy="822.1" r="3.7" fill="#1e1e1e"/>
<circle cx="672.0" cy="843.1" r="6.0" fill="#b4b4b4"/>
<circle cx="671.7" cy="842.7" r="5.0" fill="#c8c8c8"/>
<circle cx="672.3" cy="843.5" r="3.7" fill="#1e1e1e"/>
<circle cx="748.2" cy="635.0" r="6.0" fill="#b4b4b4"/>
<circle cx="748.0" cy="634.6" r="5.0" fill="#c8c8c8"/>
<circle cx="748.5" cy="635.4" r="3.7" fill="#1e1e1e"/>
<circle cx="742.7" cy="656.4" r="6.0" fill="#b4b4b4"/>
<circle cx="742.4" cy="656.0" r="5.0" fill="#c8c8c8"/>
<circle cx="743.0" cy="656.8" r="3.7" fill="#1e1e1e"/>
<circle cx="737.1" cy="677.8" r="6.0" fill="#b4b4b4"/>
<circle cx="736.9" cy="677.4" r="5.0" fill="#c8c8c8"/>
<circle cx="737.4" cy="678.1" r="3.7" fill="#1e1e1e"/>
<circle cx="731.6" cy="699.1" r="6.0" fill="#b4b4b4"/>
<circle cx="731.3" cy="698.8" r="5.0" fill="#c8c8c8"/>
<circle cx="731.9" cy="699.5" r="3.7" fill="#1e1e1e"/>
<circle cx="726.0" cy="720.5" r="6.0" fill="#b4b4b4"/>
<circle cx="725.8" cy="720.1" r="5.0" fill="#c8c8c8"/>
<circle cx="726.3" cy="720.9" r="3.7" fill="#1e1e1e"/>
<circle cx="720.5" cy="742.0" r="6.0" fill="#b4b4b4"/>
<circle cx="720.2" cy="741.6" r="5.0" fill="#c8c8c8"/>
<circle cx="720.8" cy="742.4" r="3.7" fill="#1e1e1e"/>
<circle cx="714.9" cy="763.4" r="6.0" fill="#b4b4b4"/>
<circle cx="714.6" cy="763.0" r="5.0" fill="#c8c8c8"/>
<circle cx="715.2" cy="763.8" r="3.7" fill="#1e1e1e"/>
<circle cx="709.4" cy="784.8" r="6.0" fill="#b4b4b4"/>
<circle cx="709.1" cy="784.4" r="5.0" fill="#c8c8c8"/>
<circle cx="709.7" cy="785.1" r="3.7" fill="#1e1e1e"/>
<circle cx="703.9" cy="806.1" r="6.0" fill="#b4b4b4"/>
<circle cx="703.6" cy="805.8" r="5.0" fill="#c8c8c8"/>
<circle cx="704.1" cy="806.5" r="3.7" fill="#1e1e1e"/>
<circle cx="698.3" cy="827.5" r="6.0" fill="#b4b4b4"/>
<circle cx="698.0" cy="827.1" r="5.0" fill="#c8c8c8"/>
<circle cx="698.6" cy="827.9" r="3.7" fill="#1e1e1e"/>
<circle cx="692.8" cy="849.0" r="6.0" fill="#b4b4b4"/>
<circle cx="692.5" cy="848.6" r="5.0" fill="#c8c8c8"/>
<circle cx="693.0" cy="849.4" r="3.7" fill="#1e1e1e"/>
<circle cx="746.8" cy="726.4" r="6.0" fill="#b4b4b4"/>
<circle cx="746.5" cy="726.0" r="5.0" fill="#c8c8c8"/>
<circle cx="747.1" cy="726.8" r="3.7" fill="#1e1e1e"/>
<circle cx="741.2" cy="747.8" r="6.0" fill="#b4b4b4"/>
<circle cx="741.0" cy="747.4" r="5.0" fill="#c8c8c8"/>
<circle cx="741.5" cy="748.2" r="3.7" fill="#1e1e1e"/>
<circle cx="735.7" cy="769.2" r="6.0" fill="#b4b4b4"/>
<circle cx="735.4" cy="768.8" r="5.0" fill="#c8c8c8"/>
<circle cx="736.0" cy="769.6" r="3.7" fill="#1e1e1e"/>
<circle cx="730.1" cy="790.6" r="6.0" fill="#b4b4b4"/>
<circle cx="729.9" cy="790.2" r="5.0" fill="#c8c8c8"/>
<circle cx="730.4" cy="791.0" r="3.7" fill="#1e1e1e"/>
<circle cx="724.6" cy="812.0" r="6.0" fill="#b4b4b4"/>
<circle cx="724.3" cy="811.6" r="5.0" fill="#c8c8c8"/>
<circle cx="724.9" cy="812.4" r="3.7" fill="#1e1e1e"/>
<circle cx="719.0" cy="833.4" r="6.0" fill="#b4b4b4"/>
<circle cx="718.8" cy="833.0" r="5.0" fill="#c8c8c8"/>
<circle cx="719.3" cy="833.8" r="3.7" fill="#1e1e1e"/>
<circle cx="745.4" cy="817.8" r="6.0" fill="#b4b4b4"/>
<circle cx="745.1" cy="817.4" r="5.0" fill="#c8c8c8"/>
<circle cx="745.6" cy="818.2" r="3.7" fill="#1e1e1e"/>
<circle cx="739.8" cy="839.2" r="6.0" fill="#b4b4b4"/>
<circle cx="739.5" cy="838.8" r="5.0" fill="#c8c8c8"/>
<circle cx="740.1" cy="839.6" r="3.7" fill="#1e1e1e"/>
</g></g>
</g>
<text x="0" y="0" transform="translate(397.5,584.8) scale(1.16,1)" font-size="46.6" font-weight="normal" font-style="normal" fill="#fff" text-anchor="start" stroke="#fff" stroke-width="0.6" >c</text>
<rect x="808" y="581.2" width="260" height="230.1" fill="#000"/>
<ellipse cx="993" cy="589" rx="2.8" ry="2.2" fill="#fff"/>
<ellipse cx="993" cy="589" rx="4.1" ry="3.1" fill="#fff" opacity="0.35"/>
<ellipse cx="1019.5" cy="582.5" rx="2.3" ry="1.8" fill="#fff"/>
<ellipse cx="1024.8" cy="592.8" rx="2.5" ry="2.0" fill="#fff"/>
<ellipse cx="1024.8" cy="592.8" rx="3.7" ry="2.9" fill="#fff" opacity="0.35"/>
<ellipse cx="923.6" cy="635.9" rx="3.9" ry="3.1" fill="#fff"/>
<ellipse cx="923.6" cy="635.9" rx="5.8" ry="4.4" fill="#fff" opacity="0.35"/>
<ellipse cx="936.7" cy="636.5" rx="1.1" ry="0.9" fill="#fff"/>
<ellipse cx="957" cy="638.7" rx="3.2" ry="2.5" fill="#fff"/>
<ellipse cx="957" cy="638.7" rx="4.8" ry="3.6" fill="#fff" opacity="0.35"/>
<ellipse cx="986" cy="635" rx="3.2" ry="2.5" fill="#fff"/>
<ellipse cx="986" cy="635" rx="4.8" ry="3.6" fill="#fff" opacity="0.35"/>
<ellipse cx="906.5" cy="664" rx="2.9" ry="2.2" fill="#fff"/>
<ellipse cx="906.5" cy="664" rx="4.2" ry="3.2" fill="#fff" opacity="0.35"/>
<ellipse cx="968" cy="662.4" rx="3.0" ry="2.3" fill="#fff"/>
<ellipse cx="968" cy="662.4" rx="4.4" ry="3.4" fill="#fff" opacity="0.35"/>
<ellipse cx="886.8" cy="685.8" rx="1.4" ry="1.1" fill="#fff"/>
<ellipse cx="889.3" cy="691.8" rx="3.9" ry="3.1" fill="#fff"/>
<ellipse cx="889.3" cy="691.8" rx="5.8" ry="4.4" fill="#fff" opacity="0.35"/>
<ellipse cx="919.6" cy="687.4" rx="3.0" ry="2.3" fill="#fff"/>
<ellipse cx="919.6" cy="687.4" rx="4.4" ry="3.4" fill="#fff" opacity="0.35"/>
<ellipse cx="1013.2" cy="687" rx="1.6" ry="1.3" fill="#fff"/>
<ellipse cx="996" cy="714" rx="1.4" ry="1.1" fill="#fff"/>
<ellipse cx="873.4" cy="719.2" rx="3.0" ry="2.3" fill="#fff"/>
<ellipse cx="873.4" cy="719.2" rx="4.4" ry="3.4" fill="#fff" opacity="0.35"/>
<ellipse cx="980.4" cy="741" rx="3.7" ry="2.9" fill="#fff"/>
<ellipse cx="980.4" cy="741" rx="5.4" ry="4.2" fill="#fff" opacity="0.35"/>
<ellipse cx="918" cy="744.2" rx="1.8" ry="1.4" fill="#fff"/>
<ellipse cx="855.6" cy="746.4" rx="0.9" ry="0.7" fill="#fff"/>
<ellipse cx="965.8" cy="768.2" rx="1.1" ry="0.9" fill="#fff"/>
<ellipse cx="842.5" cy="773.9" rx="2.3" ry="1.8" fill="#fff"/>
<ellipse cx="825.9" cy="801" rx="3.0" ry="2.3" fill="#fff"/>
<ellipse cx="825.9" cy="801" rx="4.4" ry="3.4" fill="#fff" opacity="0.35"/>
<ellipse cx="1053.8" cy="744.2" rx="0.8" ry="0.6" fill="#fff"/>
<rect x="810.5" y="599" width="1.2" height="10" fill="#ddd"/>
<text x="0" y="0" transform="translate(814.5,625.8) scale(1.03,1)" font-size="47" font-weight="normal" font-style="normal" fill="#fff" text-anchor="start" stroke="#fff" stroke-width="0.4" >d</text>
</svg></body></html>
